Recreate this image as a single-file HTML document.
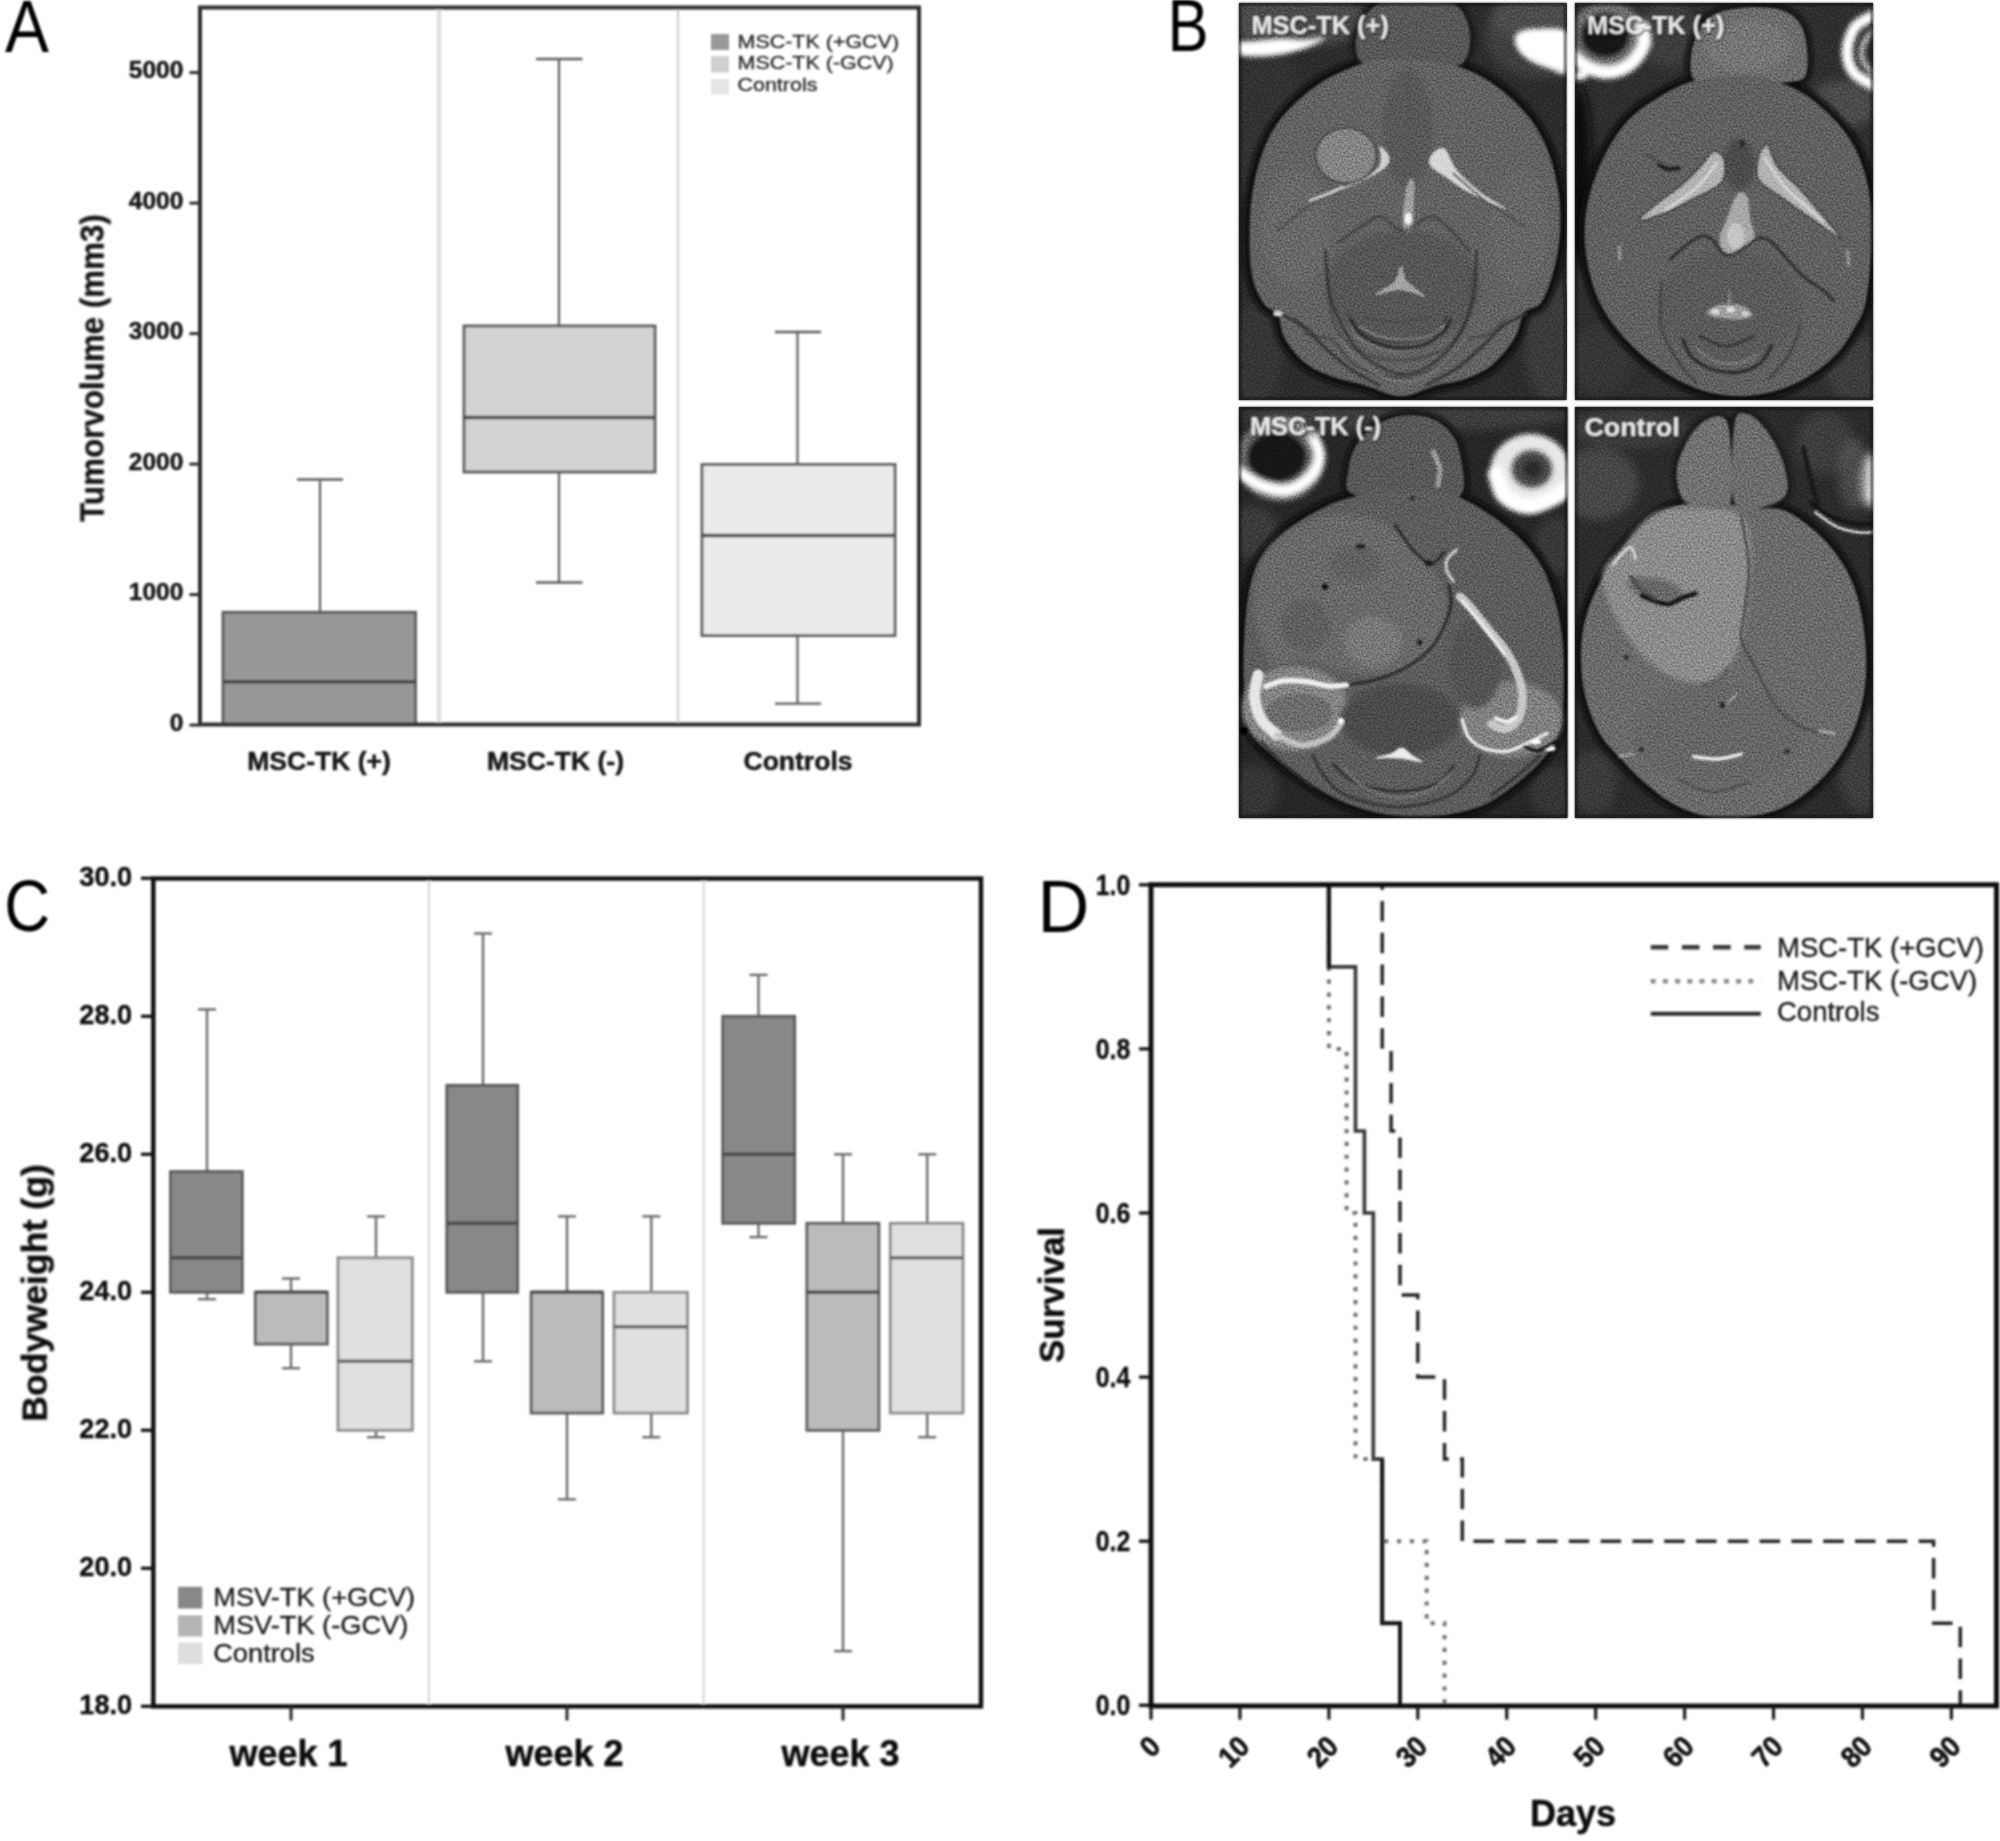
<!DOCTYPE html>
<html lang="en"><head><meta charset="utf-8"><title>Figure</title>
<style>html,body{margin:0;padding:0;background:#fff;}svg{display:block;}text{font-family:'Liberation Sans', Arial, Helvetica, sans-serif;}</style>
</head><body>
<svg width="2000" height="1841" viewBox="0 0 2000 1841">
<defs>
<filter id="soft" x="-2%" y="-2%" width="104%" height="104%"><feGaussianBlur stdDeviation="0.95"/></filter>
<filter id="tsh" x="-10%" y="-30%" width="120%" height="160%"><feMorphology in="SourceAlpha" operator="dilate" radius="0.8" result="d"/><feGaussianBlur in="d" stdDeviation="1.3" result="b"/><feOffset in="b" dx="0.8" dy="0.8" result="o"/><feComponentTransfer in="o" result="s"><feFuncA type="linear" slope="0.6"/></feComponentTransfer><feGaussianBlur in="SourceGraphic" stdDeviation="0.9" result="g"/><feMerge><feMergeNode in="s"/><feMergeNode in="g"/></feMerge></filter>
<filter id="b1" x="-10%" y="-10%" width="120%" height="120%"><feGaussianBlur stdDeviation="1.3"/></filter>
<filter id="b2" x="-20%" y="-20%" width="140%" height="140%"><feGaussianBlur stdDeviation="2.5"/></filter>
<filter id="b4" x="-30%" y="-30%" width="160%" height="160%"><feGaussianBlur stdDeviation="5"/></filter>
<filter id="b8" x="-40%" y="-40%" width="180%" height="180%"><feGaussianBlur stdDeviation="9"/></filter>
<filter id="grain" x="0" y="0" width="100%" height="100%" color-interpolation-filters="sRGB"><feTurbulence type="fractalNoise" baseFrequency="0.5" numOctaves="1" seed="7" result="n"/><feColorMatrix in="n" type="matrix" values="1 0 0 0 0  1 0 0 0 0  1 0 0 0 0  0 0 0 0 1"/></filter>
<clipPath id="cp0"><rect x="1239" y="3" width="327.3" height="397"/></clipPath>
<clipPath id="cp1"><rect x="1575" y="3" width="298" height="397"/></clipPath>
<clipPath id="cp2"><rect x="1239" y="407" width="328.6" height="411"/></clipPath>
<clipPath id="cp3"><rect x="1575" y="407" width="298" height="411"/></clipPath>
</defs>
<rect width="2000" height="1841" fill="#fff"/>
<g id="panelA" filter="url(#soft)">
<line x1="439.00" y1="7.50" x2="439.00" y2="724.50" stroke="#e0e0e0" stroke-width="4.6" />
<line x1="678.00" y1="7.50" x2="678.00" y2="724.50" stroke="#c8c8c8" stroke-width="2" />
<line x1="320.00" y1="479.55" x2="320.00" y2="612.27" stroke="#5c5c5c" stroke-width="2.2" />
<line x1="320.00" y1="724.50" x2="320.00" y2="724.50" stroke="#5c5c5c" stroke-width="2.2" />
<line x1="297.00" y1="479.55" x2="343.00" y2="479.55" stroke="#5c5c5c" stroke-width="2.4" />
<rect x="223.00" y="612.27" width="192.50" height="112.23" fill="#979797" stroke="#585858" stroke-width="2.8" />
<line x1="223.00" y1="681.70" x2="415.50" y2="681.70" stroke="#444" stroke-width="3.5" />
<line x1="559.00" y1="58.95" x2="559.00" y2="325.95" stroke="#5c5c5c" stroke-width="2.2" />
<line x1="559.00" y1="471.98" x2="559.00" y2="582.52" stroke="#5c5c5c" stroke-width="2.2" />
<line x1="536.00" y1="58.95" x2="582.50" y2="58.95" stroke="#5c5c5c" stroke-width="2.4" />
<line x1="536.00" y1="582.52" x2="582.50" y2="582.52" stroke="#5c5c5c" stroke-width="2.4" />
<rect x="464.00" y="325.95" width="191.00" height="146.03" fill="#d3d3d3" stroke="#585858" stroke-width="2.8" />
<line x1="464.00" y1="417.56" x2="655.00" y2="417.56" stroke="#444" stroke-width="3.5" />
<line x1="797.50" y1="331.96" x2="797.50" y2="464.54" stroke="#5c5c5c" stroke-width="2.2" />
<line x1="797.50" y1="635.50" x2="797.50" y2="703.62" stroke="#5c5c5c" stroke-width="2.2" />
<line x1="775.00" y1="331.96" x2="821.00" y2="331.96" stroke="#5c5c5c" stroke-width="2.4" />
<line x1="775.00" y1="703.62" x2="821.00" y2="703.62" stroke="#5c5c5c" stroke-width="2.4" />
<rect x="702.00" y="464.54" width="193.00" height="170.96" fill="#ebebeb" stroke="#585858" stroke-width="2.8" />
<line x1="702.00" y1="535.54" x2="895.00" y2="535.54" stroke="#444" stroke-width="3.5" />
<rect x="200.00" y="7.50" width="719.00" height="717.00" fill="none" stroke="#2e2e2e" stroke-width="4" />
<line x1="189.50" y1="725.10" x2="199.00" y2="725.10" stroke="#2e2e2e" stroke-width="3" />
<text transform="translate(183.30 730.90)" font-size="24.5" font-weight="bold" text-anchor="end" fill="#161616"  stroke="#161616" stroke-width="0.5" stroke-linejoin="round">0</text>
<line x1="189.50" y1="594.60" x2="199.00" y2="594.60" stroke="#2e2e2e" stroke-width="3" />
<text transform="translate(183.30 600.40)" font-size="24.5" font-weight="bold" text-anchor="end" fill="#161616"  stroke="#161616" stroke-width="0.5" stroke-linejoin="round">1000</text>
<line x1="189.50" y1="464.10" x2="199.00" y2="464.10" stroke="#2e2e2e" stroke-width="3" />
<text transform="translate(183.30 469.90)" font-size="24.5" font-weight="bold" text-anchor="end" fill="#161616"  stroke="#161616" stroke-width="0.5" stroke-linejoin="round">2000</text>
<line x1="189.50" y1="333.60" x2="199.00" y2="333.60" stroke="#2e2e2e" stroke-width="3" />
<text transform="translate(183.30 339.40)" font-size="24.5" font-weight="bold" text-anchor="end" fill="#161616"  stroke="#161616" stroke-width="0.5" stroke-linejoin="round">3000</text>
<line x1="189.50" y1="203.10" x2="199.00" y2="203.10" stroke="#2e2e2e" stroke-width="3" />
<text transform="translate(183.30 208.90)" font-size="24.5" font-weight="bold" text-anchor="end" fill="#161616"  stroke="#161616" stroke-width="0.5" stroke-linejoin="round">4000</text>
<line x1="189.50" y1="72.60" x2="199.00" y2="72.60" stroke="#2e2e2e" stroke-width="3" />
<text transform="translate(183.30 78.40)" font-size="24.5" font-weight="bold" text-anchor="end" fill="#161616"  stroke="#161616" stroke-width="0.5" stroke-linejoin="round">5000</text>
<text transform="translate(319.00 770.00) scale(1.0200 1)" font-size="26" font-weight="bold" text-anchor="middle" fill="#161616"  stroke="#161616" stroke-width="0.5" stroke-linejoin="round">MSC-TK (+)</text>
<text transform="translate(555.50 770.00) scale(1.0200 1)" font-size="26" font-weight="bold" text-anchor="middle" fill="#161616"  stroke="#161616" stroke-width="0.5" stroke-linejoin="round">MSC-TK (-)</text>
<text transform="translate(798.00 770.00) scale(1.0200 1)" font-size="26" font-weight="bold" text-anchor="middle" fill="#161616"  stroke="#161616" stroke-width="0.5" stroke-linejoin="round">Controls</text>
<rect x="711.00" y="34.00" width="18.00" height="16.00" fill="#999" stroke="none" stroke-width="0" />
<rect x="711.00" y="56.00" width="18.00" height="16.50" fill="#cfcfcf" stroke="none" stroke-width="0" />
<rect x="711.00" y="79.00" width="18.00" height="15.50" fill="#e6e6e6" stroke="none" stroke-width="0" />
<text transform="translate(737.50 47.50) scale(1.1300 1)" font-size="19" font-weight="normal" text-anchor="start" fill="#2a2a2a"  stroke="#2a2a2a" stroke-width="0.35" stroke-linejoin="round">MSC-TK (+GCV)</text>
<text transform="translate(737.50 69.00) scale(1.1300 1)" font-size="19" font-weight="normal" text-anchor="start" fill="#2a2a2a"  stroke="#2a2a2a" stroke-width="0.35" stroke-linejoin="round">MSC-TK (-GCV)</text>
<text transform="translate(737.50 91.00) scale(1.1300 1)" font-size="19" font-weight="normal" text-anchor="start" fill="#2a2a2a"  stroke="#2a2a2a" stroke-width="0.35" stroke-linejoin="round">Controls</text>
<text transform="translate(103.50 368.00) rotate(-90) scale(0.9500 1)" font-size="33" font-weight="bold" text-anchor="middle" fill="#161616"  stroke="#161616" stroke-width="0.4" stroke-linejoin="round">Tumorvolume (mm3)</text>
</g>
<g id="panelB">
<g clip-path="url(#cp0)">
<rect x="1239.00" y="3.00" width="327.30" height="397.00" fill="#2c2c2c" stroke="none" stroke-width="0" />
<g filter="url(#b4)">
<ellipse cx="1296.0" cy="20.5" rx="75.3" ry="25.1" fill="#505050" />
<ellipse cx="1537.8" cy="18.2" rx="45.6" ry="25.1" fill="#484848" />
<ellipse cx="1268.6" cy="136.9" rx="36.5" ry="95.8" fill="#333" />
<ellipse cx="1551.5" cy="342.2" rx="27.4" ry="59.3" fill="#3a3a3a" />
<ellipse cx="1257.2" cy="355.8" rx="25.1" ry="52.5" fill="#363636" />
</g>
<g filter="url(#b2)">
<path d="M1407.8 59.8 C1420.7 60.8 1441.6 62.2 1455.7 66.1 C1469.7 70.1 1480.4 75.3 1492.2 83.3 C1503.9 91.2 1517.2 103.2 1526.4 114.1 C1535.5 124.9 1541.5 135.0 1546.9 148.3 C1552.3 161.6 1556.7 178.7 1558.8 193.9 C1560.9 209.1 1560.7 225.4 1559.4 239.5 C1558.2 253.6 1554.6 267.6 1551.5 278.3 C1548.3 288.9 1545.1 297.6 1540.5 303.4 C1535.9 309.2 1528.3 307.3 1524.1 313.0 C1519.8 318.7 1520.3 328.9 1515.0 337.6 C1509.6 346.3 1500.5 358.0 1492.2 365.0 C1483.8 371.9 1474.3 375.6 1464.8 379.1 C1455.3 382.6 1445.8 383.1 1435.1 385.9 C1424.5 388.8 1412.3 396.4 1400.9 396.4 C1389.5 396.4 1378.1 389.2 1366.7 385.9 C1355.3 382.7 1342.7 380.6 1332.5 376.8 C1322.2 373.0 1313.1 369.6 1305.1 363.1 C1297.1 356.7 1289.1 346.1 1284.6 338.0 C1280.0 330.0 1281.2 320.6 1277.7 314.8 C1274.2 309.0 1267.8 309.5 1263.6 303.4 C1259.4 297.3 1255.0 288.9 1252.6 278.3 C1250.3 267.6 1249.5 253.6 1249.5 239.5 C1249.4 225.4 1249.8 209.1 1252.2 193.9 C1254.6 178.7 1258.7 161.6 1264.1 148.3 C1269.4 135.0 1275.5 124.8 1284.6 114.1 C1293.7 103.3 1307.0 91.9 1318.8 83.9 C1330.6 76.0 1345.4 70.1 1355.3 66.1 C1365.2 62.2 1369.4 61.3 1378.1 60.2 C1386.8 59.2 1394.8 58.8 1407.8 59.8Z" fill="#0c0c0c" stroke="#0c0c0c" stroke-width="13"/>
<path d="M1356.4 52.5 C1354.7 46.0 1356.1 34.8 1358.7 27.4 C1361.4 20.0 1366.9 12.5 1372.4 8.0 C1377.9 3.4 1380.2 1.3 1391.8 0.0 C1403.4 -1.3 1430.6 -1.5 1442.0 0.0 C1453.4 1.5 1455.7 4.2 1460.2 9.1 C1464.8 14.1 1468.0 22.4 1469.3 29.7 C1470.7 36.9 1470.5 46.4 1468.2 52.5 C1465.9 58.5 1465.7 63.5 1455.7 66.1 C1445.6 68.8 1422.2 68.4 1407.8 68.4 C1393.3 68.4 1377.5 68.8 1369.0 66.1 C1360.4 63.5 1358.1 58.9 1356.4 52.5Z" fill="#141414" stroke="#141414" stroke-width="9"/>
</g>
<g filter="url(#b1)">
<path d="M1356.4 52.5 C1354.7 46.0 1356.1 34.8 1358.7 27.4 C1361.4 20.0 1366.9 12.5 1372.4 8.0 C1377.9 3.4 1380.2 1.3 1391.8 0.0 C1403.4 -1.3 1430.6 -1.5 1442.0 0.0 C1453.4 1.5 1455.7 4.2 1460.2 9.1 C1464.8 14.1 1468.0 22.4 1469.3 29.7 C1470.7 36.9 1470.5 46.4 1468.2 52.5 C1465.9 58.5 1465.7 63.5 1455.7 66.1 C1445.6 68.8 1422.2 68.4 1407.8 68.4 C1393.3 68.4 1377.5 68.8 1369.0 66.1 C1360.4 63.5 1358.1 58.9 1356.4 52.5Z" fill="#595959" />
<path d="M1407.8 59.8 C1420.7 60.8 1441.6 62.2 1455.7 66.1 C1469.7 70.1 1480.4 75.3 1492.2 83.3 C1503.9 91.2 1517.2 103.2 1526.4 114.1 C1535.5 124.9 1541.5 135.0 1546.9 148.3 C1552.3 161.6 1556.7 178.7 1558.8 193.9 C1560.9 209.1 1560.7 225.4 1559.4 239.5 C1558.2 253.6 1554.6 267.6 1551.5 278.3 C1548.3 288.9 1545.1 297.6 1540.5 303.4 C1535.9 309.2 1528.3 307.3 1524.1 313.0 C1519.8 318.7 1520.3 328.9 1515.0 337.6 C1509.6 346.3 1500.5 358.0 1492.2 365.0 C1483.8 371.9 1474.3 375.6 1464.8 379.1 C1455.3 382.6 1445.8 383.1 1435.1 385.9 C1424.5 388.8 1412.3 396.4 1400.9 396.4 C1389.5 396.4 1378.1 389.2 1366.7 385.9 C1355.3 382.7 1342.7 380.6 1332.5 376.8 C1322.2 373.0 1313.1 369.6 1305.1 363.1 C1297.1 356.7 1289.1 346.1 1284.6 338.0 C1280.0 330.0 1281.2 320.6 1277.7 314.8 C1274.2 309.0 1267.8 309.5 1263.6 303.4 C1259.4 297.3 1255.0 288.9 1252.6 278.3 C1250.3 267.6 1249.5 253.6 1249.5 239.5 C1249.4 225.4 1249.8 209.1 1252.2 193.9 C1254.6 178.7 1258.7 161.6 1264.1 148.3 C1269.4 135.0 1275.5 124.8 1284.6 114.1 C1293.7 103.3 1307.0 91.9 1318.8 83.9 C1330.6 76.0 1345.4 70.1 1355.3 66.1 C1365.2 62.2 1369.4 61.3 1378.1 60.2 C1386.8 59.2 1394.8 58.8 1407.8 59.8Z" fill="#626262" />
</g>
<g filter="url(#b2)">
<path d="M1524.1 34.2 C1527.7 31.4 1535.1 31.6 1542.3 31.9 C1549.6 32.3 1563.2 29.8 1567.4 36.5 C1571.6 43.1 1570.1 66.3 1567.4 71.9 C1564.8 77.4 1557.2 71.3 1551.5 69.6 C1545.8 67.9 1538.3 65.0 1533.2 61.6 C1528.1 58.2 1522.2 53.6 1520.7 49.0 C1519.1 44.5 1520.5 37.1 1524.1 34.2Z" fill="#ffffff" />
</g>
<g filter="url(#b2)">
<ellipse cx="1403.2" cy="287.4" rx="77.6" ry="57.0" fill="#575757" />
<ellipse cx="1407.8" cy="127.7" rx="25.1" ry="59.3" fill="#585858" />
<ellipse cx="1296.0" cy="228.1" rx="34.2" ry="59.3" fill="#676767" />
<ellipse cx="1519.5" cy="228.1" rx="29.7" ry="59.3" fill="#666666" />
</g>
<g filter="url(#b1)">
<ellipse cx="1346.2" cy="155.6" rx="31.9" ry="29.2" fill="#4e4e4e" />
<ellipse cx="1346.2" cy="155.6" rx="29.2" ry="26.5" fill="#848484" />
<path d="M1379.9 146.0 C1381.4 146.0 1389.0 153.5 1389.5 157.4 C1390.0 161.3 1388.8 164.8 1383.1 169.3 C1377.4 173.7 1365.3 179.9 1355.3 184.3 C1345.3 188.7 1331.3 192.5 1323.4 195.7 C1315.4 198.9 1305.9 204.2 1307.4 203.5 C1308.9 202.7 1323.4 195.0 1332.5 191.1 C1341.6 187.3 1354.5 184.1 1362.1 180.2 C1369.7 176.3 1375.0 171.5 1378.1 167.7 C1381.2 163.9 1380.5 161.0 1380.8 157.4 C1381.1 153.8 1378.5 146.0 1379.9 146.0Z" fill="#d0d0d0" />
<path d="M1432.8 153.3 C1435.4 150.6 1440.7 145.9 1444.7 148.7 C1448.7 151.5 1450.7 162.6 1456.8 169.9 C1462.9 177.3 1473.0 186.2 1481.2 192.7 C1489.5 199.2 1508.3 208.9 1506.3 208.9 C1504.3 208.9 1479.7 198.2 1469.3 192.7 C1459.0 187.3 1450.9 180.8 1444.3 176.1 C1437.6 171.4 1431.6 168.5 1429.7 164.7 C1427.8 160.9 1430.3 155.9 1432.8 153.3Z" fill="#d6d6d6" />
<path d="M1408.9 180.2 C1410.4 177.9 1413.3 178.3 1414.1 182.5 C1414.9 186.7 1414.0 197.7 1413.7 205.3 C1413.4 212.9 1413.8 223.8 1412.3 228.1 C1410.9 232.4 1406.6 232.7 1405.0 230.8 C1403.4 228.9 1402.7 222.5 1402.7 216.7 C1402.7 210.9 1404.0 202.3 1405.0 196.2 C1406.0 190.1 1407.4 182.5 1408.9 180.2Z" fill="#a0a0a0" />
<ellipse cx="1408.2" cy="218.5" rx="3.6" ry="5.9" fill="#f4f4f4" />
<path d="M1339.3 241.8 C1343.1 239.1 1355.3 230.0 1362.1 225.8 C1369.0 221.6 1373.5 215.9 1380.4 216.7 C1387.2 217.5 1394.8 230.8 1403.2 230.8 C1411.6 230.8 1423.0 217.2 1430.6 216.7 C1438.2 216.2 1442.4 222.4 1448.8 228.1 C1455.3 233.8 1465.9 247.1 1469.3 250.9" fill="none" stroke="#3c3c3c" stroke-width="2.2" stroke-linecap="round" stroke-linejoin="round" />
<path d="M1277.7 230.4 C1283.1 226.2 1299.0 212.1 1309.7 205.3 C1320.3 198.4 1336.3 192.0 1341.6 189.3" fill="none" stroke="#4a4a4a" stroke-width="2" stroke-linecap="round" stroke-linejoin="round" />
<path d="M1453.4 173.4 C1458.7 177.9 1473.5 192.0 1485.3 200.7 C1497.1 209.5 1517.6 221.6 1524.1 225.8" fill="none" stroke="#4a4a4a" stroke-width="2" stroke-linecap="round" stroke-linejoin="round" />
<path d="M1407.8 68.4 C1407.9 76.0 1408.5 96.6 1408.9 114.1 C1409.3 131.5 1409.8 163.5 1410.0 173.4" fill="none" stroke="#555" stroke-width="3" stroke-linecap="round" stroke-linejoin="round" />
<path d="M1401.4 265.7 C1403.5 265.5 1402.7 275.4 1406.6 280.6 C1410.5 285.7 1425.8 294.9 1424.9 296.5 C1423.9 298.1 1409.2 290.5 1400.9 290.1 C1392.7 289.8 1376.5 296.1 1375.4 294.7 C1374.2 293.3 1389.7 286.5 1394.1 281.7 C1398.4 276.9 1399.3 265.9 1401.4 265.7Z" fill="#a4a4a4" />
<path d="M1348.4 314.8 C1350.3 317.4 1351.5 326.2 1359.9 330.7 C1368.2 335.3 1385.7 342.2 1398.6 342.2 C1411.6 342.2 1429.4 335.1 1437.4 330.7 C1445.4 326.4 1445.0 318.4 1446.5 315.9" fill="none" stroke="#3e3e3e" stroke-width="2.6" stroke-linecap="round" stroke-linejoin="round" />
<path d="M1364.4 318.2 C1370.1 318.8 1387.2 321.7 1398.6 321.6 C1410.0 321.5 1427.1 318.2 1432.8 317.5" fill="none" stroke="#4a4a4a" stroke-width="2" stroke-linecap="round" stroke-linejoin="round" />
<path d="M1327.9 269.2 C1328.7 277.5 1327.9 306.0 1332.5 319.3 C1337.0 332.6 1344.3 342.2 1355.3 349.0 C1366.3 355.8 1383.8 360.4 1398.6 360.4 C1413.5 360.4 1432.8 355.8 1444.3 349.0 C1455.7 342.2 1462.1 332.6 1467.1 319.3 C1472.0 306.0 1472.8 277.5 1473.9 269.2" fill="none" stroke="#4a4a4a" stroke-width="2.4" stroke-linecap="round" stroke-linejoin="round" />
<path d="M1296.0 319.3 C1298.3 322.0 1303.6 331.9 1309.7 335.3 C1315.8 338.7 1324.9 334.9 1332.5 339.9 C1340.1 344.8 1344.3 358.7 1355.3 365.0 C1366.3 371.2 1384.2 377.5 1398.6 377.5 C1413.1 377.5 1430.6 371.2 1442.0 365.0 C1453.4 358.7 1459.5 344.8 1467.1 339.9 C1474.7 334.9 1481.1 338.7 1487.6 335.3 C1494.1 331.9 1502.8 322.0 1505.8 319.3" fill="none" stroke="#484848" stroke-width="2.4" stroke-linecap="round" stroke-linejoin="round" />
<path d="M1350.7 323.9 C1352.6 326.6 1354.2 335.3 1362.1 339.9 C1370.1 344.4 1386.5 351.3 1398.6 351.3 C1410.8 351.3 1427.5 344.4 1435.1 339.9 C1442.7 335.3 1442.7 326.6 1444.3 323.9" fill="none" stroke="#7c7c7c" stroke-width="2.2" stroke-linecap="round" stroke-linejoin="round" />
</g>
<g filter="url(#b1)">
<path d="M1351.2 320.1 C1352.6 322.2 1355.1 329.1 1359.8 333.0 C1364.5 337.0 1372.0 341.3 1379.2 343.8 C1386.4 346.3 1395.0 348.1 1402.9 348.1 C1410.8 348.1 1419.8 346.7 1426.7 343.8 C1433.5 340.9 1440.0 334.8 1443.9 330.9 C1447.9 326.9 1449.3 321.9 1450.4 320.1" fill="none" stroke="#2a2a2a" stroke-width="3.4" stroke-linecap="round" stroke-linejoin="round" />
<path d="M1359.8 326.6 C1363.0 328.2 1372.0 334.1 1379.2 336.3 C1386.4 338.4 1395.0 339.5 1402.9 339.5 C1410.8 339.5 1420.0 338.4 1426.7 336.3 C1433.3 334.1 1440.1 328.2 1442.8 326.6" fill="none" stroke="#7a7a7a" stroke-width="2.6" stroke-linecap="round" stroke-linejoin="round" />
<path d="M1325.3 251.1 C1326.0 258.2 1326.7 281.6 1329.6 294.2 C1332.5 306.8 1337.5 316.8 1342.5 326.6 C1347.6 336.3 1352.6 345.2 1359.8 352.4 C1367.0 359.6 1378.5 366.0 1385.7 369.7 C1392.9 373.4 1396.8 374.4 1402.9 374.4 C1409.0 374.4 1415.2 373.4 1422.3 369.7 C1429.5 366.0 1439.2 359.6 1446.1 352.4 C1452.9 345.2 1458.7 336.3 1463.3 326.6 C1468.0 316.8 1472.0 306.8 1474.1 294.2 C1476.3 281.6 1475.9 258.2 1476.3 251.1" fill="none" stroke="#353535" stroke-width="2.6" stroke-linecap="round" stroke-linejoin="round" />
<path d="M1280.0 313.6 C1283.9 315.8 1296.2 320.8 1303.7 326.6 C1311.3 332.3 1317.4 340.9 1325.3 348.1 C1333.2 355.3 1342.2 363.5 1351.2 369.7 C1360.2 375.9 1374.5 382.6 1379.2 385.2" fill="none" stroke="#343434" stroke-width="2.8" stroke-linecap="round" stroke-linejoin="round" />
<path d="M1525.9 313.6 C1521.9 315.8 1509.7 320.8 1502.2 326.6 C1494.6 332.3 1488.5 340.9 1480.6 348.1 C1472.7 355.3 1463.7 363.5 1454.7 369.7 C1445.7 375.9 1431.3 382.6 1426.7 385.2" fill="none" stroke="#343434" stroke-width="2.8" stroke-linecap="round" stroke-linejoin="round" />
<path d="M1340.4 339.5 C1343.6 343.1 1352.2 354.6 1359.8 361.1 C1367.3 367.5 1378.5 374.9 1385.7 378.3 C1392.9 381.8 1396.8 381.8 1402.9 381.8 C1409.0 381.8 1415.2 381.8 1422.3 378.3 C1429.5 374.9 1438.9 367.5 1446.1 361.1 C1453.3 354.6 1462.3 343.1 1465.5 339.5" fill="none" stroke="#757575" stroke-width="2.4" stroke-linecap="round" stroke-linejoin="round" />
<path d="M1310.2 200.4 C1312.7 199.5 1319.9 197.1 1325.3 195.0 C1330.7 192.8 1339.7 188.7 1342.5 187.4" fill="none" stroke="#c4c4c4" stroke-width="3" stroke-linecap="round" stroke-linejoin="round" />
<ellipse cx="1277.8" cy="313.6" rx="4.7" ry="3.0" fill="#d0d0d0" />
</g>
<g filter="url(#b4)">
<ellipse cx="1541.0" cy="35.4" rx="56.1" ry="43.1" fill="#4e4e4e" opacity="0.55"/>
<ellipse cx="1292.9" cy="15.9" rx="64.7" ry="19.4" fill="#4a4a4a" opacity="0.6"/>
</g>
<g filter="url(#b2)">
<path d="M1234.7 42.9 C1238.3 40.7 1248.3 41.5 1256.3 40.7 C1264.2 40.0 1274.2 38.8 1282.1 38.6 C1290.0 38.4 1296.5 39.8 1303.7 39.7 C1310.9 39.5 1324.6 36.3 1325.3 37.5 C1326.0 38.8 1315.2 44.4 1308.0 47.2 C1300.8 50.0 1290.8 52.8 1282.1 54.3 C1273.5 55.9 1264.2 56.6 1256.3 56.5 C1248.3 56.4 1238.3 56.0 1234.7 53.7 C1231.1 51.4 1231.1 45.1 1234.7 42.9Z" fill="#ffffff" />
<path d="M1517.3 33.2 C1520.7 30.3 1528.0 28.9 1536.7 28.9 C1545.3 28.9 1563.6 26.4 1569.0 33.2 C1574.4 40.0 1572.3 64.1 1569.0 69.9 C1565.8 75.6 1556.4 69.5 1549.6 67.7 C1542.8 65.9 1533.6 62.7 1528.0 59.1 C1522.5 55.5 1518.0 50.5 1516.2 46.1 C1514.4 41.8 1513.8 36.1 1517.3 33.2Z" fill="#ffffff" />
</g>
<rect x="1239" y="3" width="327.3" height="397" filter="url(#grain)" style="mix-blend-mode:overlay" opacity="0.45"/>
</g>
<text transform="translate(1251.50 34.40) scale(0.9750 1)" font-size="26" font-weight="bold" text-anchor="start" fill="#f4f4f4" filter="url(#tsh)" opacity="0.95">MSC-TK (+)</text>
<g clip-path="url(#cp1)">
<rect x="1575.00" y="3.00" width="298.00" height="397.00" fill="#2e2e2e" stroke="none" stroke-width="0" />
<g filter="url(#b4)">
<ellipse cx="1842.4" cy="104.4" rx="34.5" ry="23.7" fill="#4c4c4c" />
<ellipse cx="1667.7" cy="33.2" rx="28.0" ry="34.5" fill="#3c3c3c" />
<ellipse cx="1855.4" cy="369.6" rx="30.2" ry="32.3" fill="#3c3c3c" />
<ellipse cx="1600.9" cy="358.8" rx="32.3" ry="34.5" fill="#363636" />
<ellipse cx="1579.3" cy="175.5" rx="12.9" ry="90.6" fill="#0c0c0c" />
</g>
<g filter="url(#b2)">
<path d="M1695.8 80.6 C1682.1 83.9 1672.4 89.3 1661.3 95.7 C1650.1 102.2 1638.3 109.8 1628.9 119.5 C1619.6 129.2 1611.7 141.7 1605.2 154.0 C1598.7 166.2 1593.5 180.2 1590.1 192.8 C1586.7 205.4 1585.1 217.2 1584.7 229.4 C1584.3 241.7 1585.6 254.2 1587.9 266.1 C1590.3 278.0 1593.7 289.8 1598.7 300.6 C1603.8 311.4 1610.2 321.1 1618.1 330.8 C1626.0 340.5 1636.1 350.6 1646.2 358.8 C1656.2 367.1 1667.4 374.6 1678.5 380.4 C1689.7 386.2 1701.5 390.8 1713.0 393.3 C1724.5 395.9 1736.0 396.6 1747.5 395.9 C1759.0 395.2 1771.2 392.7 1782.0 389.0 C1792.8 385.4 1802.9 380.0 1812.2 373.9 C1821.6 367.8 1830.9 360.3 1838.1 352.4 C1845.3 344.5 1850.9 334.4 1855.4 326.5 C1859.8 318.6 1862.5 315.7 1865.1 304.9 C1867.6 294.1 1869.7 276.2 1870.9 261.8 C1872.1 247.4 1872.9 232.3 1872.2 218.7 C1871.5 205.0 1869.7 192.1 1866.6 179.8 C1863.5 167.6 1859.4 155.8 1853.6 145.3 C1847.9 134.9 1840.4 125.9 1832.1 117.3 C1823.7 108.7 1813.4 99.7 1803.6 93.6 C1793.8 87.5 1783.5 83.5 1773.4 80.6 C1763.3 77.8 1756.2 76.3 1743.2 76.3 C1730.3 76.3 1709.4 77.4 1695.8 80.6Z" fill="#080808" stroke="#080808" stroke-width="13"/>
<path d="M1692.5 77.4 C1689.7 72.4 1690.2 60.7 1691.5 52.6 C1692.7 44.5 1696.1 35.3 1700.1 28.9 C1704.0 22.4 1707.3 17.4 1715.2 13.8 C1723.1 10.2 1736.7 8.0 1747.5 7.3 C1758.3 6.6 1771.2 7.0 1779.9 9.5 C1788.5 12.0 1794.8 16.3 1799.3 22.4 C1803.8 28.5 1805.8 37.3 1806.8 46.1 C1807.9 54.9 1808.4 69.3 1805.8 75.2 C1803.1 81.2 1800.4 80.3 1790.7 81.7 C1781.0 83.2 1761.2 83.8 1747.5 83.9 C1733.9 84.0 1717.9 83.4 1708.7 82.4 C1699.5 81.3 1695.4 82.4 1692.5 77.4Z" fill="#101010" stroke="#101010" stroke-width="9"/>
</g>
<g filter="url(#b1)">
<path d="M1692.5 77.4 C1689.7 72.4 1690.2 60.7 1691.5 52.6 C1692.7 44.5 1696.1 35.3 1700.1 28.9 C1704.0 22.4 1707.3 17.4 1715.2 13.8 C1723.1 10.2 1736.7 8.0 1747.5 7.3 C1758.3 6.6 1771.2 7.0 1779.9 9.5 C1788.5 12.0 1794.8 16.3 1799.3 22.4 C1803.8 28.5 1805.8 37.3 1806.8 46.1 C1807.9 54.9 1808.4 69.3 1805.8 75.2 C1803.1 81.2 1800.4 80.3 1790.7 81.7 C1781.0 83.2 1761.2 83.8 1747.5 83.9 C1733.9 84.0 1717.9 83.4 1708.7 82.4 C1699.5 81.3 1695.4 82.4 1692.5 77.4Z" fill="#6c6c6c" />
<path d="M1695.8 80.6 C1682.1 83.9 1672.4 89.3 1661.3 95.7 C1650.1 102.2 1638.3 109.8 1628.9 119.5 C1619.6 129.2 1611.7 141.7 1605.2 154.0 C1598.7 166.2 1593.5 180.2 1590.1 192.8 C1586.7 205.4 1585.1 217.2 1584.7 229.4 C1584.3 241.7 1585.6 254.2 1587.9 266.1 C1590.3 278.0 1593.7 289.8 1598.7 300.6 C1603.8 311.4 1610.2 321.1 1618.1 330.8 C1626.0 340.5 1636.1 350.6 1646.2 358.8 C1656.2 367.1 1667.4 374.6 1678.5 380.4 C1689.7 386.2 1701.5 390.8 1713.0 393.3 C1724.5 395.9 1736.0 396.6 1747.5 395.9 C1759.0 395.2 1771.2 392.7 1782.0 389.0 C1792.8 385.4 1802.9 380.0 1812.2 373.9 C1821.6 367.8 1830.9 360.3 1838.1 352.4 C1845.3 344.5 1850.9 334.4 1855.4 326.5 C1859.8 318.6 1862.5 315.7 1865.1 304.9 C1867.6 294.1 1869.7 276.2 1870.9 261.8 C1872.1 247.4 1872.9 232.3 1872.2 218.7 C1871.5 205.0 1869.7 192.1 1866.6 179.8 C1863.5 167.6 1859.4 155.8 1853.6 145.3 C1847.9 134.9 1840.4 125.9 1832.1 117.3 C1823.7 108.7 1813.4 99.7 1803.6 93.6 C1793.8 87.5 1783.5 83.5 1773.4 80.6 C1763.3 77.8 1756.2 76.3 1743.2 76.3 C1730.3 76.3 1709.4 77.4 1695.8 80.6Z" fill="#616161" />
</g>
<g filter="url(#b2)">
<ellipse cx="1607.3" cy="39.7" rx="39.9" ry="37.7" fill="#6e6e6e" />
<ellipse cx="1605.2" cy="35.3" rx="24.8" ry="22.6" fill="#181818" />
<path d="M1572.8 56.9 C1575.4 58.7 1581.8 65.1 1587.9 67.7 C1594.0 70.3 1602.3 73.1 1609.5 72.4 C1616.7 71.8 1625.2 68.6 1631.1 63.8 C1636.9 59.1 1642.6 50.2 1644.4 44.0 C1646.3 37.8 1642.6 29.6 1642.3 26.7" fill="none" stroke="#ffffff" stroke-width="13" stroke-linecap="round" stroke-linejoin="round" />
<path d="M1572.8 76.3 C1574.6 76.1 1581.8 75.4 1583.6 75.2" fill="none" stroke="#ffffff" stroke-width="8" stroke-linecap="round" stroke-linejoin="round" />
<path d="M1874.8 14.9 C1871.5 16.8 1860.0 20.8 1855.4 26.7 C1850.8 32.7 1847.4 42.8 1847.2 50.4 C1846.9 58.1 1849.0 66.5 1853.6 72.4 C1858.2 78.4 1871.2 83.8 1874.8 86.0" fill="none" stroke="#ffffff" stroke-width="11" stroke-linecap="round" stroke-linejoin="round" />
<path d="M1874.8 30.0 C1873.0 31.9 1866.5 37.0 1864.4 41.8 C1862.3 46.7 1860.5 53.5 1862.3 59.1 C1864.0 64.6 1872.7 72.5 1874.8 75.2" fill="none" stroke="#c8c8c8" stroke-width="5" stroke-linecap="round" stroke-linejoin="round" />
</g>
<g filter="url(#b2)">
<ellipse cx="1730.3" cy="304.9" rx="71.2" ry="56.1" fill="#5a5a5a" />
<ellipse cx="1738.9" cy="164.7" rx="16.2" ry="25.9" fill="#4c4c4c" />
<ellipse cx="1747.5" cy="46.1" rx="43.1" ry="25.9" fill="#757575" />
</g>
<g filter="url(#b1)">
<path d="M1713.0 151.8 C1716.6 150.8 1722.4 153.7 1723.8 158.7 C1725.2 163.7 1726.3 175.5 1721.6 182.0 C1717.0 188.5 1705.1 192.4 1695.8 197.5 C1686.4 202.6 1674.9 208.9 1665.6 212.6 C1656.2 216.4 1641.1 221.5 1639.7 220.0 C1638.3 218.4 1649.8 209.5 1656.9 203.6 C1664.1 197.6 1675.3 190.6 1682.8 184.2 C1690.4 177.7 1697.2 170.1 1702.2 164.7 C1707.3 159.4 1709.4 152.8 1713.0 151.8Z" fill="#b2b2b2" stroke="#3c3c3c" stroke-width="1.8"/>
<path d="M1764.8 145.3 C1763.0 147.1 1759.3 152.5 1758.3 158.3 C1757.3 164.0 1754.8 173.3 1758.7 179.8 C1762.7 186.4 1773.1 191.0 1782.0 197.5 C1790.9 204.1 1802.4 212.3 1812.2 219.1 C1822.0 225.9 1838.9 238.9 1840.7 238.5 C1842.5 238.1 1829.9 224.8 1823.0 216.5 C1816.1 208.2 1806.8 196.7 1799.3 188.5 C1791.7 180.2 1782.7 173.7 1777.7 166.9 C1772.7 160.1 1771.2 151.1 1769.1 147.5 C1766.9 143.9 1766.6 143.5 1764.8 145.3Z" fill="#b2b2b2" stroke="#3c3c3c" stroke-width="1.8"/>
<path d="M1717.3 162.6 C1713.7 166.9 1704.4 180.6 1695.8 188.5 C1687.1 196.4 1670.6 206.4 1665.6 210.0" fill="none" stroke="#dedede" stroke-width="2.2" stroke-linecap="round" stroke-linejoin="round" />
<path d="M1764.8 158.3 C1768.4 163.3 1776.6 178.0 1786.3 188.5 C1796.0 198.9 1816.9 215.4 1823.0 220.8" fill="none" stroke="#dedede" stroke-width="2.2" stroke-linecap="round" stroke-linejoin="round" />
<path d="M1738.9 192.8 C1741.4 191.7 1745.7 192.8 1747.5 197.1 C1749.4 201.4 1749.0 212.2 1750.1 218.7 C1751.3 225.1 1754.9 231.5 1754.4 235.9 C1754.0 240.3 1750.8 242.0 1747.5 245.0 C1744.2 247.9 1738.5 252.6 1734.6 253.6 C1730.6 254.6 1726.3 253.6 1723.8 251.0 C1721.3 248.4 1719.1 243.1 1719.5 238.1 C1719.8 233.0 1723.8 226.6 1726.0 220.8 C1728.1 215.1 1730.3 208.2 1732.4 203.6 C1734.6 198.9 1736.4 193.9 1738.9 192.8Z" fill="#a8a8a8" />
<ellipse cx="1735.7" cy="235.9" rx="8.6" ry="12.9" fill="#c6c6c6" />
<path d="M1669.9 259.6 C1672.8 257.1 1681.8 248.5 1687.1 244.5 C1692.5 240.6 1697.9 236.6 1702.2 235.9 C1706.6 235.2 1710.1 238.0 1713.0 240.2 C1715.9 242.5 1717.3 246.9 1719.5 249.3 C1721.6 251.7 1723.4 253.7 1726.0 254.5 C1728.5 255.2 1731.0 255.2 1734.6 253.6 C1738.2 252.0 1743.6 247.6 1747.5 245.0 C1751.5 242.4 1754.7 238.9 1758.3 238.1 C1761.9 237.3 1765.1 237.7 1769.1 240.2 C1773.0 242.7 1776.6 247.4 1782.0 253.2 C1787.4 258.9 1794.6 268.5 1801.4 274.7 C1808.3 280.9 1817.6 285.9 1823.0 290.3 C1828.4 294.6 1832.0 298.9 1833.8 300.6" fill="none" stroke="#2c2c2c" stroke-width="2.6" stroke-linecap="round" stroke-linejoin="round" />
<path d="M1659.1 164.7 C1660.5 165.5 1664.4 168.5 1667.7 169.1 C1671.0 169.6 1677.1 168.2 1678.9 168.0" fill="none" stroke="#1c1c1c" stroke-width="4" stroke-linecap="round" stroke-linejoin="round" />
<path d="M1646.2 154.0 C1648.7 155.6 1658.7 162.0 1661.3 163.7" fill="none" stroke="#4a4a4a" stroke-width="3" stroke-linecap="round" stroke-linejoin="round" />
<ellipse cx="1742.1" cy="143.6" rx="2.6" ry="3.5" fill="#262626" />
<path d="M1706.6 313.5 C1705.5 311.5 1711.2 307.6 1715.2 306.0 C1719.1 304.4 1725.2 303.7 1730.3 303.8 C1735.3 304.0 1741.7 305.1 1745.4 307.1 C1749.0 309.1 1753.3 313.6 1752.3 315.7 C1751.2 317.8 1744.0 319.2 1738.9 319.6 C1733.8 320.0 1727.0 319.3 1721.6 318.3 C1716.3 317.3 1707.6 315.6 1706.6 313.5Z" fill="#9c9c9c" />
<ellipse cx="1715.6" cy="311.8" rx="3.9" ry="2.8" fill="#dcdcdc" />
<ellipse cx="1730.7" cy="309.7" rx="4.3" ry="2.8" fill="#e0e0e0" />
<ellipse cx="1745.4" cy="313.5" rx="3.5" ry="2.6" fill="#d0d0d0" />
<path d="M1729.2 292.0 C1729.2 293.8 1729.4 301.0 1729.4 302.8" fill="none" stroke="#8a8a8a" stroke-width="2.2" stroke-linecap="round" stroke-linejoin="round" />
<path d="M1682.8 339.4 C1684.3 342.3 1686.4 351.6 1691.5 356.7 C1696.5 361.7 1705.1 367.0 1713.0 369.6 C1720.9 372.2 1731.0 373.3 1738.9 372.2 C1746.8 371.1 1755.0 367.5 1760.5 363.1 C1765.9 358.8 1769.8 348.8 1771.7 345.9" fill="none" stroke="#2c2c2c" stroke-width="3.2" stroke-linecap="round" stroke-linejoin="round" />
<path d="M1700.1 336.2 C1704.4 337.9 1717.0 346.3 1726.0 346.3 C1734.9 346.3 1749.3 337.9 1754.0 336.2" fill="none" stroke="#343434" stroke-width="2.8" stroke-linecap="round" stroke-linejoin="round" />
<path d="M1695.8 348.1 C1699.0 350.2 1708.0 358.5 1715.2 361.0 C1722.4 363.5 1731.7 364.2 1738.9 363.1 C1746.1 362.1 1755.1 356.0 1758.3 354.5" fill="none" stroke="#7a7a7a" stroke-width="2.2" stroke-linecap="round" stroke-linejoin="round" />
<path d="M1661.3 283.4 C1661.3 290.5 1658.7 313.9 1661.3 326.5 C1663.8 339.1 1670.5 349.4 1676.4 358.8 C1682.2 368.3 1692.9 379.0 1696.2 383.0" fill="none" stroke="#404040" stroke-width="2.4" stroke-linecap="round" stroke-linejoin="round" />
<path d="M1801.4 322.2 C1799.6 327.2 1796.0 342.9 1790.7 352.4 C1785.3 361.8 1772.7 374.3 1769.1 378.7" fill="none" stroke="#404040" stroke-width="2.4" stroke-linecap="round" stroke-linejoin="round" />
<path d="M1619.2 246.7 C1619.3 248.8 1619.6 257.5 1619.6 259.6" fill="none" stroke="#9a9a9a" stroke-width="3" stroke-linecap="round" stroke-linejoin="round" />
<path d="M1847.8 251.0 C1847.9 253.3 1848.3 262.7 1848.5 265.0" fill="none" stroke="#9a9a9a" stroke-width="3" stroke-linecap="round" stroke-linejoin="round" />
</g>
<rect x="1575" y="3" width="298" height="397" filter="url(#grain)" style="mix-blend-mode:overlay" opacity="0.45"/>
</g>
<text transform="translate(1587.00 34.00) scale(0.9750 1)" font-size="26" font-weight="bold" text-anchor="start" fill="#f4f4f4" filter="url(#tsh)" opacity="0.95">MSC-TK (+)</text>
<g clip-path="url(#cp2)">
<rect x="1239.00" y="407.00" width="328.60" height="411.00" fill="#262626" stroke="none" stroke-width="0" />
<g filter="url(#b4)">
<ellipse cx="1404.2" cy="415.9" rx="165.2" ry="15.6" fill="#3e3e3e" />
<ellipse cx="1252.4" cy="532.0" rx="26.8" ry="26.8" fill="#3a3a3a" />
<ellipse cx="1556.0" cy="545.4" rx="22.3" ry="29.0" fill="#383838" />
<ellipse cx="1252.4" cy="790.9" rx="26.8" ry="26.8" fill="#343434" />
<ellipse cx="1556.0" cy="790.9" rx="26.8" ry="26.8" fill="#343434" />
</g>
<g filter="url(#b2)">
<path d="M1355.1 496.3 C1343.2 499.3 1334.6 502.2 1323.8 507.4 C1313.0 512.7 1300.4 519.7 1290.3 527.5 C1280.3 535.3 1270.2 544.6 1263.6 554.3 C1256.9 564.0 1253.3 572.9 1250.2 585.6 C1247.0 598.2 1245.7 615.3 1244.6 630.2 C1243.5 645.1 1243.1 660.7 1243.5 674.9 C1243.8 689.0 1245.0 704.6 1246.8 715.0 C1248.7 725.5 1250.3 730.7 1254.6 737.4 C1258.9 744.1 1265.8 749.3 1272.5 755.2 C1279.2 761.2 1286.6 767.1 1294.8 773.1 C1303.0 779.0 1311.5 785.3 1321.6 790.9 C1331.6 796.5 1342.8 802.4 1355.1 806.6 C1367.3 810.7 1381.1 814.4 1395.2 815.9 C1409.4 817.5 1425.8 817.5 1439.9 815.9 C1454.0 814.4 1468.9 810.7 1480.1 806.6 C1491.2 802.4 1498.7 796.5 1506.9 790.9 C1515.0 785.3 1522.1 779.8 1529.2 773.1 C1536.2 766.4 1544.1 758.6 1549.3 750.8 C1554.5 742.9 1558.0 737.0 1560.4 726.2 C1562.9 715.4 1563.6 700.2 1564.0 686.0 C1564.4 671.9 1564.0 655.1 1562.7 641.4 C1561.3 627.6 1559.3 615.7 1556.0 603.4 C1552.6 591.2 1548.2 578.1 1542.6 567.7 C1537.0 557.3 1530.3 549.1 1522.5 540.9 C1514.7 532.7 1505.0 525.3 1495.7 518.6 C1486.4 511.9 1476.0 505.2 1466.7 500.8 C1457.4 496.3 1451.8 493.7 1439.9 491.8 C1428.0 490.0 1409.4 488.8 1395.2 489.6 C1381.1 490.3 1367.0 493.3 1355.1 496.3Z" fill="#080808" stroke="#080808" stroke-width="12"/>
<path d="M1350.6 492.9 C1342.8 488.3 1347.6 477.1 1348.4 469.5 C1349.1 461.9 1351.0 454.2 1355.1 447.2 C1359.2 440.1 1365.5 432.3 1372.9 427.1 C1380.4 421.9 1390.0 417.4 1399.7 415.9 C1409.4 414.4 1422.0 414.8 1431.0 418.2 C1439.9 421.5 1448.1 428.2 1453.3 436.0 C1458.5 443.8 1460.7 455.5 1462.2 465.0 C1463.7 474.5 1465.9 486.8 1462.2 492.9 C1458.5 499.1 1451.1 501.1 1439.9 501.9 C1428.7 502.6 1410.1 498.9 1395.2 497.4 C1380.4 495.9 1358.4 497.6 1350.6 492.9Z" fill="#101010" stroke="#101010" stroke-width="9"/>
</g>
<g filter="url(#b1)">
<path d="M1350.6 492.9 C1342.8 488.3 1347.6 477.1 1348.4 469.5 C1349.1 461.9 1351.0 454.2 1355.1 447.2 C1359.2 440.1 1365.5 432.3 1372.9 427.1 C1380.4 421.9 1390.0 417.4 1399.7 415.9 C1409.4 414.4 1422.0 414.8 1431.0 418.2 C1439.9 421.5 1448.1 428.2 1453.3 436.0 C1458.5 443.8 1460.7 455.5 1462.2 465.0 C1463.7 474.5 1465.9 486.8 1462.2 492.9 C1458.5 499.1 1451.1 501.1 1439.9 501.9 C1428.7 502.6 1410.1 498.9 1395.2 497.4 C1380.4 495.9 1358.4 497.6 1350.6 492.9Z" fill="#595959" />
<path d="M1355.1 496.3 C1343.2 499.3 1334.6 502.2 1323.8 507.4 C1313.0 512.7 1300.4 519.7 1290.3 527.5 C1280.3 535.3 1270.2 544.6 1263.6 554.3 C1256.9 564.0 1253.3 572.9 1250.2 585.6 C1247.0 598.2 1245.7 615.3 1244.6 630.2 C1243.5 645.1 1243.1 660.7 1243.5 674.9 C1243.8 689.0 1245.0 704.6 1246.8 715.0 C1248.7 725.5 1250.3 730.7 1254.6 737.4 C1258.9 744.1 1265.8 749.3 1272.5 755.2 C1279.2 761.2 1286.6 767.1 1294.8 773.1 C1303.0 779.0 1311.5 785.3 1321.6 790.9 C1331.6 796.5 1342.8 802.4 1355.1 806.6 C1367.3 810.7 1381.1 814.4 1395.2 815.9 C1409.4 817.5 1425.8 817.5 1439.9 815.9 C1454.0 814.4 1468.9 810.7 1480.1 806.6 C1491.2 802.4 1498.7 796.5 1506.9 790.9 C1515.0 785.3 1522.1 779.8 1529.2 773.1 C1536.2 766.4 1544.1 758.6 1549.3 750.8 C1554.5 742.9 1558.0 737.0 1560.4 726.2 C1562.9 715.4 1563.6 700.2 1564.0 686.0 C1564.4 671.9 1564.0 655.1 1562.7 641.4 C1561.3 627.6 1559.3 615.7 1556.0 603.4 C1552.6 591.2 1548.2 578.1 1542.6 567.7 C1537.0 557.3 1530.3 549.1 1522.5 540.9 C1514.7 532.7 1505.0 525.3 1495.7 518.6 C1486.4 511.9 1476.0 505.2 1466.7 500.8 C1457.4 496.3 1451.8 493.7 1439.9 491.8 C1428.0 490.0 1409.4 488.8 1395.2 489.6 C1381.1 490.3 1367.0 493.3 1355.1 496.3Z" fill="#5b5b5b" />
</g>
<g filter="url(#b2)">
<ellipse cx="1280.3" cy="459.5" rx="44.6" ry="42.4" fill="#6a6a6a" />
<ellipse cx="1276.9" cy="456.6" rx="30.1" ry="25.7" fill="#171717" />
<path d="M1236.8 471.3 C1240.9 473.7 1252.8 482.4 1261.3 485.6 C1269.9 488.7 1279.9 491.5 1288.1 490.0 C1296.3 488.5 1305.1 482.3 1310.4 476.6 C1315.7 471.0 1319.4 462.9 1319.8 456.1 C1320.2 449.3 1314.2 439.4 1313.1 436.0" fill="none" stroke="#ffffff" stroke-width="11" stroke-linecap="round" stroke-linejoin="round" />
<path d="M1313.1 436.0 C1310.4 434.0 1303.8 426.0 1297.0 423.7 C1290.3 421.5 1276.6 422.8 1272.5 422.6" fill="none" stroke="#9a9a9a" stroke-width="5" stroke-linecap="round" stroke-linejoin="round" />
<ellipse cx="1530.3" cy="471.7" rx="40.2" ry="37.9" fill="#e8e8e8" />
<ellipse cx="1531.9" cy="469.1" rx="21.2" ry="19.6" fill="#4a4a4a" />
<ellipse cx="1532.8" cy="469.1" rx="10.0" ry="9.4" fill="#2a2a2a" />
<path d="M1495.7 474.0 C1497.2 477.7 1499.0 490.9 1504.6 496.3 C1510.2 501.7 1520.6 506.3 1529.2 506.3 C1537.7 506.4 1548.9 500.5 1556.0 496.7 C1563.0 493.0 1569.0 486.1 1571.6 484.0" fill="none" stroke="#ffffff" stroke-width="16" stroke-linecap="round" stroke-linejoin="round" />
</g>
<g filter="url(#b2)">
<path d="M1259.1 563.2 C1263.9 552.8 1272.1 542.0 1283.6 534.2 C1295.2 526.4 1313.4 519.0 1328.3 516.4 C1343.2 513.8 1359.5 514.5 1372.9 518.6 C1386.3 522.7 1398.2 531.6 1408.6 540.9 C1419.1 550.2 1429.1 563.2 1435.4 574.4 C1441.8 585.6 1445.8 596.7 1446.6 607.9 C1447.3 619.1 1444.7 632.1 1439.9 641.4 C1435.1 650.7 1426.9 658.1 1417.6 663.7 C1408.3 669.3 1397.1 673.7 1384.1 674.9 C1371.1 676.0 1352.5 673.0 1339.4 670.4 C1326.4 667.8 1317.1 660.3 1306.0 659.2 C1294.8 658.1 1280.7 668.5 1272.5 663.7 C1264.3 658.9 1259.8 641.4 1256.9 630.2 C1253.9 619.1 1254.3 607.9 1254.6 596.7 C1255.0 585.6 1254.3 573.7 1259.1 563.2Z" fill="#696969" />
<ellipse cx="1372.9" cy="641.4" rx="29.0" ry="24.6" fill="#787878" />
<ellipse cx="1306.0" cy="625.8" rx="24.6" ry="26.8" fill="#5e5e5e" />
<ellipse cx="1355.1" cy="563.2" rx="26.8" ry="17.9" fill="#606060" />
<ellipse cx="1294.8" cy="708.3" rx="53.6" ry="42.4" fill="#848484" />
<ellipse cx="1511.3" cy="719.5" rx="51.3" ry="37.9" fill="#808080" />
<ellipse cx="1399.7" cy="719.5" rx="60.3" ry="35.7" fill="#4c4c4c" />
<ellipse cx="1475.6" cy="663.7" rx="26.8" ry="44.6" fill="#525252" />
</g>
<g filter="url(#b1)">
<path d="M1346.1 684.9 C1351.4 684.0 1367.0 682.5 1377.4 679.3 C1387.8 676.2 1399.7 671.1 1408.6 665.9 C1417.6 660.7 1425.0 654.8 1431.0 648.1 C1436.9 641.4 1441.0 633.2 1444.4 625.8 C1447.7 618.3 1450.3 610.1 1451.1 603.4 C1451.8 596.7 1449.2 588.5 1448.8 585.6" fill="none" stroke="#2a2a2a" stroke-width="3" stroke-linecap="round" stroke-linejoin="round" />
<path d="M1395.2 525.3 C1398.2 529.4 1407.2 543.5 1413.1 549.9 C1419.1 556.3 1425.8 563.3 1431.0 563.7 C1436.2 564.1 1442.1 554.0 1444.4 552.1" fill="none" stroke="#2c2c2c" stroke-width="3" stroke-linecap="round" stroke-linejoin="round" />
<path d="M1456.6 549.9 C1455.1 551.3 1449.4 555.4 1447.7 558.8 C1446.0 562.1 1445.7 566.2 1446.6 569.9 C1447.5 573.7 1452.2 579.2 1453.3 581.1" fill="none" stroke="#cfcfcf" stroke-width="3" stroke-linecap="round" stroke-linejoin="round" />
<path d="M1433.2 451.6 C1434.3 454.6 1439.1 463.9 1439.9 469.5 C1440.6 475.1 1438.0 482.5 1437.7 485.1" fill="none" stroke="#9c9c9c" stroke-width="5" stroke-linecap="round" stroke-linejoin="round" />
<path d="M1460.0 596.7 C1461.8 598.6 1466.3 602.3 1471.1 607.9 C1476.0 613.5 1483.0 622.8 1489.0 630.2 C1495.0 637.7 1502.0 645.1 1506.9 652.5 C1511.7 660.0 1515.4 667.4 1518.0 674.9 C1520.6 682.3 1522.5 689.7 1522.5 697.2 C1522.5 704.6 1521.0 714.2 1518.0 719.5 C1515.0 724.8 1509.1 728.1 1504.6 728.9 C1500.2 729.6 1493.5 724.8 1491.2 724.0" fill="none" stroke="#c8c8c8" stroke-width="8.5" stroke-linecap="round" stroke-linejoin="round" />
<path d="M1462.2 601.2 C1465.9 605.7 1477.5 619.1 1484.5 628.0 C1491.6 636.9 1501.3 650.3 1504.6 654.8" fill="none" stroke="#f0f0f0" stroke-width="3" stroke-linecap="round" stroke-linejoin="round" />
<path d="M1462.2 719.5 C1463.3 722.5 1465.2 732.5 1468.9 737.4 C1472.6 742.2 1478.2 746.2 1484.5 748.5 C1490.9 750.8 1499.4 752.2 1506.9 751.2 C1514.3 750.2 1522.5 745.2 1529.2 742.3 C1535.9 739.3 1544.1 734.8 1547.0 733.3" fill="none" stroke="#f0f0f0" stroke-width="3.2" stroke-linecap="round" stroke-linejoin="round" />
<path d="M1495.7 718.4 C1497.6 718.9 1503.5 721.9 1506.9 721.7 C1510.2 721.5 1514.3 718.0 1515.8 717.3" fill="none" stroke="#f4f4f4" stroke-width="4" stroke-linecap="round" stroke-linejoin="round" />
<ellipse cx="1535.9" cy="741.8" rx="5.4" ry="2.7" fill="#ffffff" />
<ellipse cx="1549.7" cy="748.5" rx="5.8" ry="2.7" fill="#ffffff" />
<path d="M1524.7 746.3 C1526.9 747.0 1532.9 751.5 1538.1 750.8 C1543.3 750.0 1553.0 743.3 1556.0 741.8" fill="none" stroke="#111" stroke-width="3" stroke-linecap="round" stroke-linejoin="round" />
<path d="M1265.8 686.5 C1268.8 685.5 1276.9 681.5 1283.6 680.7 C1290.3 679.8 1298.5 680.7 1306.0 681.6 C1313.4 682.4 1321.6 685.4 1328.3 686.0 C1335.0 686.6 1343.2 685.3 1346.1 685.1" fill="none" stroke="#efefef" stroke-width="5.5" stroke-linecap="round" stroke-linejoin="round" />
<path d="M1258.0 674.9 C1257.4 678.6 1254.1 689.7 1254.6 697.2 C1255.2 704.6 1257.6 713.2 1261.3 719.5 C1265.0 725.8 1274.3 732.5 1276.9 735.1" fill="none" stroke="#e6e6e6" stroke-width="11" stroke-linecap="round" stroke-linejoin="round" />
<path d="M1276.9 735.1 C1281.0 736.8 1292.9 744.8 1301.5 745.2 C1310.1 745.5 1321.6 741.2 1328.3 737.4 C1335.0 733.5 1339.4 724.7 1341.7 722.2" fill="none" stroke="#c2c2c2" stroke-width="6" stroke-linecap="round" stroke-linejoin="round" />
<ellipse cx="1299.3" cy="712.8" rx="33.5" ry="19.0" fill="#6c6c6c" />
<ellipse cx="1340.8" cy="720.6" rx="2.9" ry="2.9" fill="#fff" />
<path d="M1401.9 747.4 C1405.7 747.8 1409.7 753.2 1413.1 755.7 C1416.5 758.2 1424.7 761.9 1422.5 762.4 C1420.2 762.8 1407.6 759.3 1399.7 758.6 C1391.8 757.8 1376.6 758.7 1375.2 757.9 C1373.7 757.0 1386.3 755.2 1390.8 753.4 C1395.2 751.7 1398.2 747.0 1401.9 747.4Z" fill="#ececec" />
<path d="M1332.8 764.1 C1336.5 767.1 1344.7 777.5 1355.1 782.0 C1365.5 786.5 1381.9 791.0 1395.2 791.4 C1408.6 791.7 1425.8 788.4 1435.4 784.2 C1445.1 780.1 1450.3 769.4 1453.3 766.4" fill="none" stroke="#2e2e2e" stroke-width="2.8" stroke-linecap="round" stroke-linejoin="round" />
<path d="M1312.7 755.2 C1314.5 758.6 1318.2 768.6 1323.8 775.3 C1329.4 782.0 1334.2 790.1 1346.1 795.4 C1358.0 800.7 1378.9 806.6 1395.2 807.0 C1411.6 807.4 1431.7 802.5 1444.4 797.6 C1457.0 792.7 1465.2 784.6 1471.1 777.5 C1477.1 770.5 1478.6 758.9 1480.1 755.2" fill="none" stroke="#333" stroke-width="2.6" stroke-linecap="round" stroke-linejoin="round" />
<path d="M1261.3 741.8 C1265.0 745.5 1275.1 756.7 1283.6 764.1 C1292.2 771.6 1307.8 782.7 1312.7 786.5" fill="none" stroke="#303030" stroke-width="2.6" stroke-linecap="round" stroke-linejoin="round" />
<path d="M1540.3 755.2 C1536.6 758.6 1526.2 768.6 1518.0 775.3 C1509.8 782.0 1495.7 792.0 1491.2 795.4" fill="none" stroke="#303030" stroke-width="2.6" stroke-linecap="round" stroke-linejoin="round" />
<path d="M1343.9 768.6 C1347.3 771.6 1355.4 781.6 1364.0 786.5 C1372.6 791.3 1384.5 796.9 1395.2 797.6 C1406.0 798.4 1419.4 795.0 1428.7 790.9 C1438.0 786.8 1447.3 776.0 1451.1 773.1" fill="none" stroke="#747474" stroke-width="2.4" stroke-linecap="round" stroke-linejoin="round" />
<ellipse cx="1324.9" cy="586.7" rx="3.1" ry="2.9" fill="#0c0c0c" />
<ellipse cx="1360.7" cy="546.5" rx="4.9" ry="2.5" fill="#242424" />
<ellipse cx="1419.8" cy="642.5" rx="2.7" ry="2.9" fill="#1c1c1c" />
<ellipse cx="1428.7" cy="563.2" rx="3.6" ry="3.1" fill="#1e1e1e" />
<ellipse cx="1412.0" cy="498.5" rx="2.0" ry="2.0" fill="#1c1c1c" />
<ellipse cx="1243.5" cy="730.7" rx="4.5" ry="4.0" fill="#050505" />
</g>
<rect x="1239" y="407" width="328.6" height="411" filter="url(#grain)" style="mix-blend-mode:overlay" opacity="0.45"/>
</g>
<text transform="translate(1250.00 435.00) scale(0.9750 1)" font-size="26" font-weight="bold" text-anchor="start" fill="#f4f4f4" filter="url(#tsh)" opacity="0.95">MSC-TK (-)</text>
<g clip-path="url(#cp3)">
<rect x="1575.00" y="407.00" width="298.00" height="411.00" fill="#2b2b2b" stroke="none" stroke-width="0" />
<g filter="url(#b4)">
<ellipse cx="1597.8" cy="483.7" rx="40.6" ry="35.9" fill="#464646" />
<ellipse cx="1628.9" cy="428.7" rx="59.8" ry="19.1" fill="#3e3e3e" />
<ellipse cx="1824.9" cy="443.0" rx="28.7" ry="31.1" fill="#3e3e3e" />
<ellipse cx="1860.7" cy="758.5" rx="23.9" ry="52.6" fill="#3c3c3c" />
<ellipse cx="1593.0" cy="782.4" rx="23.9" ry="31.1" fill="#3a3a3a" />
</g>
<g filter="url(#b2)">
<path d="M1674.3 506.4 C1662.3 509.9 1655.2 516.1 1645.6 524.3 C1636.0 532.4 1625.3 544.2 1616.9 555.4 C1608.6 566.5 1601.0 579.3 1595.4 591.2 C1589.8 603.2 1585.9 615.1 1583.5 627.1 C1581.1 639.0 1580.7 651.0 1581.1 662.9 C1581.5 674.9 1582.7 686.8 1585.9 698.8 C1589.0 710.7 1594.2 724.5 1600.2 734.6 C1606.2 744.8 1614.1 751.5 1621.7 759.7 C1629.3 767.9 1636.8 776.2 1645.6 783.6 C1654.4 791.1 1663.1 798.7 1674.3 804.4 C1685.4 810.1 1699.4 815.8 1712.5 817.8 C1725.7 819.8 1740.4 818.6 1753.2 816.3 C1765.9 814.1 1778.3 810.0 1789.0 804.4 C1799.8 798.8 1808.9 791.3 1817.7 782.9 C1826.4 774.5 1834.8 765.0 1841.6 754.2 C1848.4 743.4 1854.3 731.1 1858.3 717.9 C1862.4 704.7 1865.1 690.0 1866.0 674.9 C1866.8 659.7 1865.6 641.8 1863.6 627.1 C1861.6 612.3 1858.4 598.4 1854.0 586.4 C1849.6 574.5 1844.1 564.9 1837.3 555.4 C1830.4 545.8 1821.7 536.6 1812.9 529.1 C1804.1 521.6 1794.2 513.9 1784.2 510.4 C1774.3 506.9 1764.3 509.2 1753.2 508.0 C1742.0 506.8 1730.4 503.5 1717.3 503.3 C1704.2 503.0 1686.2 502.9 1674.3 506.4Z" fill="#0c0c0c" stroke="#0c0c0c" stroke-width="12"/>
<path d="M1683.8 500.4 C1678.7 494.8 1676.3 481.3 1676.7 471.7 C1677.1 462.1 1681.9 451.3 1686.2 443.0 C1690.6 434.7 1697.0 426.4 1703.0 422.0 C1708.9 417.6 1717.6 414.4 1722.1 416.7 C1726.5 419.0 1728.3 421.5 1729.7 435.9 C1731.1 450.2 1734.1 491.2 1730.4 502.8 C1726.8 514.3 1715.5 505.6 1707.7 505.2 C1700.0 504.8 1689.0 506.0 1683.8 500.4Z" fill="#141414" stroke="#141414" stroke-width="8"/>
<path d="M1734.5 502.8 C1729.4 489.0 1732.2 438.6 1734.5 423.9 C1736.8 409.2 1743.3 413.5 1748.4 414.3 C1753.5 415.1 1759.9 422.3 1765.1 428.7 C1770.3 435.1 1775.8 444.2 1779.4 452.6 C1783.1 460.9 1786.2 471.6 1787.1 478.9 C1788.0 486.1 1788.4 491.5 1784.7 496.1 C1781.0 500.7 1773.5 505.2 1765.1 506.4 C1756.7 507.5 1739.6 516.5 1734.5 502.8Z" fill="#141414" stroke="#141414" stroke-width="8"/>
</g>
<g filter="url(#b1)">
<path d="M1683.8 500.4 C1678.7 494.8 1676.3 481.3 1676.7 471.7 C1677.1 462.1 1681.9 451.3 1686.2 443.0 C1690.6 434.7 1697.0 426.4 1703.0 422.0 C1708.9 417.6 1717.6 414.4 1722.1 416.7 C1726.5 419.0 1728.3 421.5 1729.7 435.9 C1731.1 450.2 1734.1 491.2 1730.4 502.8 C1726.8 514.3 1715.5 505.6 1707.7 505.2 C1700.0 504.8 1689.0 506.0 1683.8 500.4Z" fill="#717171" />
<path d="M1734.5 502.8 C1729.4 489.0 1732.2 438.6 1734.5 423.9 C1736.8 409.2 1743.3 413.5 1748.4 414.3 C1753.5 415.1 1759.9 422.3 1765.1 428.7 C1770.3 435.1 1775.8 444.2 1779.4 452.6 C1783.1 460.9 1786.2 471.6 1787.1 478.9 C1788.0 486.1 1788.4 491.5 1784.7 496.1 C1781.0 500.7 1773.5 505.2 1765.1 506.4 C1756.7 507.5 1739.6 516.5 1734.5 502.8Z" fill="#6c6c6c" />
<path d="M1674.3 506.4 C1662.3 509.9 1655.2 516.1 1645.6 524.3 C1636.0 532.4 1625.3 544.2 1616.9 555.4 C1608.6 566.5 1601.0 579.3 1595.4 591.2 C1589.8 603.2 1585.9 615.1 1583.5 627.1 C1581.1 639.0 1580.7 651.0 1581.1 662.9 C1581.5 674.9 1582.7 686.8 1585.9 698.8 C1589.0 710.7 1594.2 724.5 1600.2 734.6 C1606.2 744.8 1614.1 751.5 1621.7 759.7 C1629.3 767.9 1636.8 776.2 1645.6 783.6 C1654.4 791.1 1663.1 798.7 1674.3 804.4 C1685.4 810.1 1699.4 815.8 1712.5 817.8 C1725.7 819.8 1740.4 818.6 1753.2 816.3 C1765.9 814.1 1778.3 810.0 1789.0 804.4 C1799.8 798.8 1808.9 791.3 1817.7 782.9 C1826.4 774.5 1834.8 765.0 1841.6 754.2 C1848.4 743.4 1854.3 731.1 1858.3 717.9 C1862.4 704.7 1865.1 690.0 1866.0 674.9 C1866.8 659.7 1865.6 641.8 1863.6 627.1 C1861.6 612.3 1858.4 598.4 1854.0 586.4 C1849.6 574.5 1844.1 564.9 1837.3 555.4 C1830.4 545.8 1821.7 536.6 1812.9 529.1 C1804.1 521.6 1794.2 513.9 1784.2 510.4 C1774.3 506.9 1764.3 509.2 1753.2 508.0 C1742.0 506.8 1730.4 503.5 1717.3 503.3 C1704.2 503.0 1686.2 502.9 1674.3 506.4Z" fill="#6a6a6a" />
</g>
<g filter="url(#b2)">
<path d="M1655.2 512.8 C1669.1 506.1 1691.0 507.6 1705.4 508.0 C1719.7 508.4 1733.6 509.3 1741.2 515.2 C1748.9 521.1 1750.0 530.7 1751.2 543.4 C1752.5 556.1 1750.4 575.3 1748.9 591.2 C1747.3 607.1 1745.3 626.3 1741.7 639.0 C1738.1 651.8 1733.8 660.4 1727.3 667.7 C1720.9 674.9 1711.8 680.8 1703.0 682.5 C1694.1 684.2 1683.0 681.0 1674.3 677.7 C1665.5 674.5 1658.0 669.4 1650.4 662.9 C1642.8 656.5 1635.6 648.6 1628.9 639.0 C1622.1 629.4 1614.1 616.7 1609.8 605.5 C1605.4 594.4 1601.1 581.6 1603.1 572.1 C1605.1 562.5 1613.0 558.1 1621.7 548.2 C1630.4 538.3 1641.2 519.5 1655.2 512.8Z" fill="#8b8b8b" />
<ellipse cx="1655.2" cy="588.8" rx="28.7" ry="10.8" fill="#666" transform="rotate(12 1655.2 588.8)" />
<ellipse cx="1717.3" cy="734.6" rx="83.7" ry="47.8" fill="#666" />
</g>
<g filter="url(#b1)">
<path d="M1642.0 595.6 C1644.2 596.5 1650.9 599.8 1655.4 601.2 C1659.8 602.6 1664.3 604.4 1668.8 603.9 C1673.2 603.3 1677.7 599.6 1682.1 597.8 C1686.6 596.1 1693.3 594.1 1695.5 593.4" fill="none" stroke="#141414" stroke-width="4.6" stroke-linecap="round" stroke-linejoin="round" />
<path d="M1630.8 576.6 C1632.7 578.9 1637.9 586.3 1642.0 590.0 C1646.1 593.8 1653.1 597.5 1655.4 599.0" fill="none" stroke="#4a4a4a" stroke-width="3.5" stroke-linecap="round" stroke-linejoin="round" />
<path d="M1612.9 564.4 C1615.7 561.5 1625.9 548.0 1629.7 547.2 C1633.5 546.3 1634.7 557.2 1635.7 559.2" fill="none" stroke="#dcdcdc" stroke-width="2.6" stroke-linecap="round" stroke-linejoin="round" />
<path d="M1741.2 515.2 C1742.5 523.9 1748.4 550.7 1748.9 567.3 C1749.3 584.0 1745.3 603.2 1744.1 615.1 C1742.8 627.1 1739.7 631.0 1741.2 639.0 C1742.7 647.1 1749.2 655.4 1753.2 663.4 C1757.1 671.4 1760.7 678.9 1765.1 686.8 C1769.5 694.7 1773.1 703.9 1779.4 710.7 C1785.8 717.5 1795.4 723.5 1803.3 727.4 C1811.3 731.4 1823.3 733.4 1827.2 734.6" fill="none" stroke="#4a4a4a" stroke-width="2.4" stroke-linecap="round" stroke-linejoin="round" />
<path d="M1727.3 667.7 C1725.7 670.1 1721.4 679.2 1717.3 682.0 C1713.2 684.8 1705.4 684.0 1703.0 684.4" fill="none" stroke="#555" stroke-width="2" stroke-linecap="round" stroke-linejoin="round" />
<path d="M1693.4 756.6 C1697.4 757.0 1709.3 759.4 1717.3 759.0 C1725.3 758.6 1737.2 755.0 1741.2 754.2" fill="none" stroke="#f0f0f0" stroke-width="3.4" stroke-linecap="round" stroke-linejoin="round" />
<path d="M1679.1 780.0 C1684.6 782.0 1701.0 791.6 1712.5 792.0 C1724.1 792.4 1742.4 784.0 1748.4 782.4" fill="none" stroke="#4c4c4c" stroke-width="2.4" stroke-linecap="round" stroke-linejoin="round" />
<ellipse cx="1626.5" cy="657.2" rx="2.4" ry="2.2" fill="#222" />
<ellipse cx="1722.6" cy="705.0" rx="2.6" ry="3.1" fill="#222" />
<path d="M1726.9 703.5 C1728.5 701.9 1734.8 695.6 1736.4 694.0" fill="none" stroke="#a0a0a0" stroke-width="2.4" stroke-linecap="round" stroke-linejoin="round" />
<ellipse cx="1787.1" cy="751.3" rx="2.4" ry="2.2" fill="#222" />
<ellipse cx="1641.3" cy="749.4" rx="2.4" ry="2.2" fill="#222" />
<path d="M1820.1 731.0 C1822.5 731.4 1832.0 733.0 1834.4 733.4" fill="none" stroke="#aaa" stroke-width="3" stroke-linecap="round" stroke-linejoin="round" />
<path d="M1619.3 756.1 C1621.7 755.7 1631.3 754.1 1633.7 753.7" fill="none" stroke="#999" stroke-width="3" stroke-linecap="round" stroke-linejoin="round" />
<path d="M1815.3 512.3 C1818.9 514.7 1829.2 523.3 1836.8 526.7 C1844.4 530.1 1854.3 531.9 1860.7 532.6 C1867.1 533.4 1872.7 531.7 1875.0 531.5" fill="none" stroke="#d8d8d8" stroke-width="2.6" stroke-linecap="round" stroke-linejoin="round" />
<path d="M1810.5 502.8 C1814.1 505.2 1824.1 513.5 1832.0 517.1 C1840.0 520.7 1851.1 523.3 1858.3 524.3 C1865.5 525.3 1872.3 523.3 1875.0 523.1" fill="none" stroke="#111" stroke-width="3" stroke-linecap="round" stroke-linejoin="round" />
<path d="M1803.3 447.8 C1804.5 453.0 1808.1 469.3 1810.5 478.9 C1812.9 488.4 1816.5 500.8 1817.7 505.2" fill="none" stroke="#151515" stroke-width="4" stroke-linecap="round" stroke-linejoin="round" />
</g>
<g filter="url(#b4)">
<ellipse cx="1874.1" cy="480.7" rx="12.3" ry="26.8" fill="#f0f0f0" />
<ellipse cx="1854.0" cy="474.0" rx="15.6" ry="35.7" fill="#6a6a6a" opacity="0.5"/>
</g>
<rect x="1575" y="407" width="298" height="411" filter="url(#grain)" style="mix-blend-mode:overlay" opacity="0.45"/>
</g>
<text transform="translate(1584.50 436.00) scale(1.0300 1)" font-size="26" font-weight="bold" text-anchor="start" fill="#f4f4f4" filter="url(#tsh)" opacity="0.95">Control</text>
<rect x="1240" y="4" width="325.3" height="395" fill="none" stroke="#0a0a0a" stroke-width="2.2" opacity="0.8" filter="url(#soft)"/>
<rect x="1576" y="4" width="296" height="395" fill="none" stroke="#0a0a0a" stroke-width="2.2" opacity="0.8" filter="url(#soft)"/>
<rect x="1240" y="408" width="326.6" height="409" fill="none" stroke="#0a0a0a" stroke-width="2.2" opacity="0.8" filter="url(#soft)"/>
<rect x="1576" y="408" width="296" height="409" fill="none" stroke="#0a0a0a" stroke-width="2.2" opacity="0.8" filter="url(#soft)"/>
</g>
<g id="panelC" filter="url(#soft)">
<line x1="429.00" y1="878.50" x2="429.00" y2="1706.40" stroke="#dcdcdc" stroke-width="2.5" />
<line x1="703.70" y1="878.50" x2="703.70" y2="1706.40" stroke="#dcdcdc" stroke-width="2.5" />
<line x1="207.00" y1="1009.40" x2="207.00" y2="1171.55" stroke="#6a6a6a" stroke-width="2.4" />
<line x1="207.00" y1="1292.30" x2="207.00" y2="1299.20" stroke="#6a6a6a" stroke-width="2.4" />
<line x1="198.00" y1="1009.40" x2="216.00" y2="1009.40" stroke="#6a6a6a" stroke-width="2.4" />
<line x1="198.00" y1="1299.20" x2="216.00" y2="1299.20" stroke="#6a6a6a" stroke-width="2.4" />
<rect x="170.50" y="1171.55" width="71.80" height="120.75" fill="#888888" stroke="#5a5a5a" stroke-width="2.8" />
<line x1="170.50" y1="1257.80" x2="242.30" y2="1257.80" stroke="#4a4a4a" stroke-width="3.6" />
<line x1="291.00" y1="1278.50" x2="291.00" y2="1292.30" stroke="#6a6a6a" stroke-width="2.4" />
<line x1="291.00" y1="1344.05" x2="291.00" y2="1368.20" stroke="#6a6a6a" stroke-width="2.4" />
<line x1="282.00" y1="1278.50" x2="300.00" y2="1278.50" stroke="#6a6a6a" stroke-width="2.4" />
<line x1="282.00" y1="1368.20" x2="300.00" y2="1368.20" stroke="#6a6a6a" stroke-width="2.4" />
<rect x="255.30" y="1292.30" width="72.00" height="51.75" fill="#bbbbbb" stroke="#5a5a5a" stroke-width="2.8" />
<line x1="255.30" y1="1292.30" x2="327.30" y2="1292.30" stroke="#4a4a4a" stroke-width="3.6" />
<line x1="376.00" y1="1216.40" x2="376.00" y2="1257.80" stroke="#6a6a6a" stroke-width="2.4" />
<line x1="376.00" y1="1430.30" x2="376.00" y2="1437.20" stroke="#6a6a6a" stroke-width="2.4" />
<line x1="367.00" y1="1216.40" x2="385.00" y2="1216.40" stroke="#6a6a6a" stroke-width="2.4" />
<line x1="367.00" y1="1437.20" x2="385.00" y2="1437.20" stroke="#6a6a6a" stroke-width="2.4" />
<rect x="338.00" y="1257.80" width="74.30" height="172.50" fill="#e0e0e0" stroke="#8a8a8a" stroke-width="2.8" />
<line x1="338.00" y1="1361.30" x2="412.30" y2="1361.30" stroke="#666" stroke-width="3.6" />
<line x1="483.00" y1="933.50" x2="483.00" y2="1085.30" stroke="#6a6a6a" stroke-width="2.4" />
<line x1="483.00" y1="1292.30" x2="483.00" y2="1361.30" stroke="#6a6a6a" stroke-width="2.4" />
<line x1="474.00" y1="933.50" x2="492.00" y2="933.50" stroke="#6a6a6a" stroke-width="2.4" />
<line x1="474.00" y1="1361.30" x2="492.00" y2="1361.30" stroke="#6a6a6a" stroke-width="2.4" />
<rect x="446.80" y="1085.30" width="70.90" height="207.00" fill="#888888" stroke="#5a5a5a" stroke-width="2.8" />
<line x1="446.80" y1="1223.30" x2="517.70" y2="1223.30" stroke="#4a4a4a" stroke-width="3.6" />
<line x1="567.00" y1="1216.40" x2="567.00" y2="1292.30" stroke="#6a6a6a" stroke-width="2.4" />
<line x1="567.00" y1="1413.05" x2="567.00" y2="1499.30" stroke="#6a6a6a" stroke-width="2.4" />
<line x1="558.00" y1="1216.40" x2="576.00" y2="1216.40" stroke="#6a6a6a" stroke-width="2.4" />
<line x1="558.00" y1="1499.30" x2="576.00" y2="1499.30" stroke="#6a6a6a" stroke-width="2.4" />
<rect x="531.20" y="1292.30" width="71.50" height="120.75" fill="#bbbbbb" stroke="#5a5a5a" stroke-width="2.8" />
<line x1="531.20" y1="1292.30" x2="602.70" y2="1292.30" stroke="#4a4a4a" stroke-width="3.6" />
<line x1="651.30" y1="1216.40" x2="651.30" y2="1292.30" stroke="#6a6a6a" stroke-width="2.4" />
<line x1="651.30" y1="1413.05" x2="651.30" y2="1437.20" stroke="#6a6a6a" stroke-width="2.4" />
<line x1="642.30" y1="1216.40" x2="660.30" y2="1216.40" stroke="#6a6a6a" stroke-width="2.4" />
<line x1="642.30" y1="1437.20" x2="660.30" y2="1437.20" stroke="#6a6a6a" stroke-width="2.4" />
<rect x="614.00" y="1292.30" width="73.40" height="120.75" fill="#e0e0e0" stroke="#8a8a8a" stroke-width="2.8" />
<line x1="614.00" y1="1326.80" x2="687.40" y2="1326.80" stroke="#666" stroke-width="3.6" />
<line x1="758.50" y1="974.90" x2="758.50" y2="1016.30" stroke="#6a6a6a" stroke-width="2.4" />
<line x1="758.50" y1="1223.30" x2="758.50" y2="1237.10" stroke="#6a6a6a" stroke-width="2.4" />
<line x1="749.50" y1="974.90" x2="767.50" y2="974.90" stroke="#6a6a6a" stroke-width="2.4" />
<line x1="749.50" y1="1237.10" x2="767.50" y2="1237.10" stroke="#6a6a6a" stroke-width="2.4" />
<rect x="722.70" y="1016.30" width="72.00" height="207.00" fill="#888888" stroke="#5a5a5a" stroke-width="2.8" />
<line x1="722.70" y1="1154.30" x2="794.70" y2="1154.30" stroke="#4a4a4a" stroke-width="3.6" />
<line x1="843.00" y1="1154.30" x2="843.00" y2="1223.30" stroke="#6a6a6a" stroke-width="2.4" />
<line x1="843.00" y1="1430.30" x2="843.00" y2="1651.10" stroke="#6a6a6a" stroke-width="2.4" />
<line x1="834.00" y1="1154.30" x2="852.00" y2="1154.30" stroke="#6a6a6a" stroke-width="2.4" />
<line x1="834.00" y1="1651.10" x2="852.00" y2="1651.10" stroke="#6a6a6a" stroke-width="2.4" />
<rect x="806.90" y="1223.30" width="72.00" height="207.00" fill="#bbbbbb" stroke="#5a5a5a" stroke-width="2.8" />
<line x1="806.90" y1="1292.30" x2="878.90" y2="1292.30" stroke="#4a4a4a" stroke-width="3.6" />
<line x1="927.20" y1="1154.30" x2="927.20" y2="1223.30" stroke="#6a6a6a" stroke-width="2.4" />
<line x1="927.20" y1="1413.05" x2="927.20" y2="1437.20" stroke="#6a6a6a" stroke-width="2.4" />
<line x1="918.20" y1="1154.30" x2="936.20" y2="1154.30" stroke="#6a6a6a" stroke-width="2.4" />
<line x1="918.20" y1="1437.20" x2="936.20" y2="1437.20" stroke="#6a6a6a" stroke-width="2.4" />
<rect x="890.30" y="1223.30" width="72.70" height="189.75" fill="#e0e0e0" stroke="#8a8a8a" stroke-width="2.8" />
<line x1="890.30" y1="1257.80" x2="963.00" y2="1257.80" stroke="#666" stroke-width="3.6" />
<rect x="153.30" y="878.50" width="827.70" height="827.90" fill="none" stroke="#0c0c0c" stroke-width="4.4" />
<line x1="141.00" y1="1706.30" x2="153.00" y2="1706.30" stroke="#0c0c0c" stroke-width="3.2" />
<text transform="translate(132.20 1713.90) scale(0.9700 1)" font-size="28" font-weight="bold" text-anchor="end" fill="#111"  stroke="#111" stroke-width="0.4" stroke-linejoin="round">18.0</text>
<line x1="141.00" y1="1568.30" x2="153.00" y2="1568.30" stroke="#0c0c0c" stroke-width="3.2" />
<text transform="translate(132.20 1575.90) scale(0.9700 1)" font-size="28" font-weight="bold" text-anchor="end" fill="#111"  stroke="#111" stroke-width="0.4" stroke-linejoin="round">20.0</text>
<line x1="141.00" y1="1430.30" x2="153.00" y2="1430.30" stroke="#0c0c0c" stroke-width="3.2" />
<text transform="translate(132.20 1437.90) scale(0.9700 1)" font-size="28" font-weight="bold" text-anchor="end" fill="#111"  stroke="#111" stroke-width="0.4" stroke-linejoin="round">22.0</text>
<line x1="141.00" y1="1292.30" x2="153.00" y2="1292.30" stroke="#0c0c0c" stroke-width="3.2" />
<text transform="translate(132.20 1299.90) scale(0.9700 1)" font-size="28" font-weight="bold" text-anchor="end" fill="#111"  stroke="#111" stroke-width="0.4" stroke-linejoin="round">24.0</text>
<line x1="141.00" y1="1154.30" x2="153.00" y2="1154.30" stroke="#0c0c0c" stroke-width="3.2" />
<text transform="translate(132.20 1161.90) scale(0.9700 1)" font-size="28" font-weight="bold" text-anchor="end" fill="#111"  stroke="#111" stroke-width="0.4" stroke-linejoin="round">26.0</text>
<line x1="141.00" y1="1016.30" x2="153.00" y2="1016.30" stroke="#0c0c0c" stroke-width="3.2" />
<text transform="translate(132.20 1023.90) scale(0.9700 1)" font-size="28" font-weight="bold" text-anchor="end" fill="#111"  stroke="#111" stroke-width="0.4" stroke-linejoin="round">28.0</text>
<line x1="141.00" y1="878.30" x2="153.00" y2="878.30" stroke="#0c0c0c" stroke-width="3.2" />
<text transform="translate(132.20 885.90) scale(0.9700 1)" font-size="28" font-weight="bold" text-anchor="end" fill="#111"  stroke="#111" stroke-width="0.4" stroke-linejoin="round">30.0</text>
<line x1="291.00" y1="1706.00" x2="291.00" y2="1720.50" stroke="#2a2a2a" stroke-width="3" />
<text transform="translate(288.50 1766.30)" font-size="36" font-weight="bold" text-anchor="middle" fill="#111"  stroke="#111" stroke-width="0.5" stroke-linejoin="round">week 1</text>
<line x1="567.00" y1="1706.00" x2="567.00" y2="1720.50" stroke="#2a2a2a" stroke-width="3" />
<text transform="translate(564.50 1766.30)" font-size="36" font-weight="bold" text-anchor="middle" fill="#111"  stroke="#111" stroke-width="0.5" stroke-linejoin="round">week 2</text>
<line x1="843.00" y1="1706.00" x2="843.00" y2="1720.50" stroke="#2a2a2a" stroke-width="3" />
<text transform="translate(840.50 1766.30)" font-size="36" font-weight="bold" text-anchor="middle" fill="#111"  stroke="#111" stroke-width="0.5" stroke-linejoin="round">week 3</text>
<rect x="178.00" y="1586.80" width="24.30" height="21.70" fill="#888" stroke="none" stroke-width="0" />
<rect x="178.00" y="1615.30" width="24.30" height="21.20" fill="#b5b5b5" stroke="none" stroke-width="0" />
<rect x="178.00" y="1642.50" width="24.30" height="21.70" fill="#dedede" stroke="none" stroke-width="0" />
<text transform="translate(213.20 1605.80) scale(1.0900 1)" font-size="25" font-weight="normal" text-anchor="start" fill="#1e1e1e"  stroke="#1e1e1e" stroke-width="0.35" stroke-linejoin="round">MSV-TK (+GCV)</text>
<text transform="translate(213.20 1633.80) scale(1.0900 1)" font-size="25" font-weight="normal" text-anchor="start" fill="#1e1e1e"  stroke="#1e1e1e" stroke-width="0.35" stroke-linejoin="round">MSV-TK (-GCV)</text>
<text transform="translate(213.20 1661.50) scale(1.0900 1)" font-size="25" font-weight="normal" text-anchor="start" fill="#1e1e1e"  stroke="#1e1e1e" stroke-width="0.35" stroke-linejoin="round">Controls</text>
<text transform="translate(46.70 1293.00) rotate(-90) scale(1.0200 1)" font-size="35" font-weight="bold" text-anchor="middle" fill="#111"  stroke="#111" stroke-width="0.5" stroke-linejoin="round">Bodyweight (g)</text>
</g>
<g id="panelD" filter="url(#soft)">
<path d="M1151.0 884.8 L1328.9 884.8 L1328.9 1048.9 L1346.6 1048.9 L1346.6 1213.0 L1355.5 1213.0 L1355.5 1459.1 L1382.2 1459.1 L1382.2 1541.2 L1426.7 1541.2 L1426.7 1623.2 L1444.5 1623.2 L1444.5 1705.3" fill="none" stroke="#707070" stroke-width="4" stroke-dasharray="4.2 8.65" stroke-dashoffset="10"/>
<path d="M1151.0 884.8 L1382.2 884.8 L1382.2 1048.9 L1391.1 1048.9 L1391.1 1131.0 L1400.0 1131.0 L1400.0 1295.0 L1417.8 1295.0 L1417.8 1377.1 L1444.5 1377.1 L1444.5 1459.1 L1462.3 1459.1 L1462.3 1541.2 L1933.6 1541.2 L1933.6 1623.2 L1960.3 1623.2 L1960.3 1705.3" fill="none" stroke="#262626" stroke-width="3.5" stroke-dasharray="20.5 11.3" stroke-dashoffset="7"/>
<path d="M1151.0 884.8 L1328.9 884.8 L1328.9 966.8 L1355.5 966.8 L1355.5 1131.0 L1364.4 1131.0 L1364.4 1213.0 L1373.3 1213.0 L1373.3 1459.1 L1382.2 1459.1 L1382.2 1623.2 L1400.0 1623.2 L1400.0 1705.3" fill="none" stroke="#3a3a3a" stroke-width="3.7"/>
<path d="M1382.2 1459.1 L1382.2 1623.2 L1400.0 1623.2 L1400.0 1705.3" fill="none" stroke="#151515" stroke-width="4"/>
<line x1="1328.86" y1="884.80" x2="1328.86" y2="968.35" stroke="#141414" stroke-width="4.4" />
<rect x="1151.00" y="884.70" width="845.50" height="821.30" fill="none" stroke="#101010" stroke-width="5" />
<line x1="1139.00" y1="1705.30" x2="1151.00" y2="1705.30" stroke="#101010" stroke-width="3.2" />
<text transform="translate(1130.30 1715.30) scale(0.8300 1)" font-size="30" font-weight="bold" text-anchor="end" fill="#111"  stroke="#111" stroke-width="0.4" stroke-linejoin="round">0.0</text>
<line x1="1139.00" y1="1541.20" x2="1151.00" y2="1541.20" stroke="#101010" stroke-width="3.2" />
<text transform="translate(1130.30 1551.20) scale(0.8300 1)" font-size="30" font-weight="bold" text-anchor="end" fill="#111"  stroke="#111" stroke-width="0.4" stroke-linejoin="round">0.2</text>
<line x1="1139.00" y1="1377.10" x2="1151.00" y2="1377.10" stroke="#101010" stroke-width="3.2" />
<text transform="translate(1130.30 1387.10) scale(0.8300 1)" font-size="30" font-weight="bold" text-anchor="end" fill="#111"  stroke="#111" stroke-width="0.4" stroke-linejoin="round">0.4</text>
<line x1="1139.00" y1="1213.00" x2="1151.00" y2="1213.00" stroke="#101010" stroke-width="3.2" />
<text transform="translate(1130.30 1223.00) scale(0.8300 1)" font-size="30" font-weight="bold" text-anchor="end" fill="#111"  stroke="#111" stroke-width="0.4" stroke-linejoin="round">0.6</text>
<line x1="1139.00" y1="1048.90" x2="1151.00" y2="1048.90" stroke="#101010" stroke-width="3.2" />
<text transform="translate(1130.30 1058.90) scale(0.8300 1)" font-size="30" font-weight="bold" text-anchor="end" fill="#111"  stroke="#111" stroke-width="0.4" stroke-linejoin="round">0.8</text>
<line x1="1139.00" y1="884.80" x2="1151.00" y2="884.80" stroke="#101010" stroke-width="3.2" />
<text transform="translate(1130.30 894.80) scale(0.8300 1)" font-size="30" font-weight="bold" text-anchor="end" fill="#111"  stroke="#111" stroke-width="0.4" stroke-linejoin="round">1.0</text>
<line x1="1151.00" y1="1706.00" x2="1151.00" y2="1719.60" stroke="#1a1a1a" stroke-width="3.2" />
<text transform="translate(1162.20 1748.30) rotate(-45) scale(0.9200 1)" font-size="29" font-weight="bold" text-anchor="end" fill="#0a0a0a"  stroke="#0a0a0a" stroke-width="0.6" stroke-linejoin="round">0</text>
<line x1="1239.93" y1="1706.00" x2="1239.93" y2="1719.60" stroke="#1a1a1a" stroke-width="3.2" />
<text transform="translate(1251.13 1748.30) rotate(-45) scale(0.9200 1)" font-size="29" font-weight="bold" text-anchor="end" fill="#0a0a0a"  stroke="#0a0a0a" stroke-width="0.6" stroke-linejoin="round">10</text>
<line x1="1328.86" y1="1706.00" x2="1328.86" y2="1719.60" stroke="#1a1a1a" stroke-width="3.2" />
<text transform="translate(1340.06 1748.30) rotate(-45) scale(0.9200 1)" font-size="29" font-weight="bold" text-anchor="end" fill="#0a0a0a"  stroke="#0a0a0a" stroke-width="0.6" stroke-linejoin="round">20</text>
<line x1="1417.79" y1="1706.00" x2="1417.79" y2="1719.60" stroke="#1a1a1a" stroke-width="3.2" />
<text transform="translate(1428.99 1748.30) rotate(-45) scale(0.9200 1)" font-size="29" font-weight="bold" text-anchor="end" fill="#0a0a0a"  stroke="#0a0a0a" stroke-width="0.6" stroke-linejoin="round">30</text>
<line x1="1506.72" y1="1706.00" x2="1506.72" y2="1719.60" stroke="#1a1a1a" stroke-width="3.2" />
<text transform="translate(1517.92 1748.30) rotate(-45) scale(0.9200 1)" font-size="29" font-weight="bold" text-anchor="end" fill="#0a0a0a"  stroke="#0a0a0a" stroke-width="0.6" stroke-linejoin="round">40</text>
<line x1="1595.65" y1="1706.00" x2="1595.65" y2="1719.60" stroke="#1a1a1a" stroke-width="3.2" />
<text transform="translate(1606.85 1748.30) rotate(-45) scale(0.9200 1)" font-size="29" font-weight="bold" text-anchor="end" fill="#0a0a0a"  stroke="#0a0a0a" stroke-width="0.6" stroke-linejoin="round">50</text>
<line x1="1684.58" y1="1706.00" x2="1684.58" y2="1719.60" stroke="#1a1a1a" stroke-width="3.2" />
<text transform="translate(1695.78 1748.30) rotate(-45) scale(0.9200 1)" font-size="29" font-weight="bold" text-anchor="end" fill="#0a0a0a"  stroke="#0a0a0a" stroke-width="0.6" stroke-linejoin="round">60</text>
<line x1="1773.51" y1="1706.00" x2="1773.51" y2="1719.60" stroke="#1a1a1a" stroke-width="3.2" />
<text transform="translate(1784.71 1748.30) rotate(-45) scale(0.9200 1)" font-size="29" font-weight="bold" text-anchor="end" fill="#0a0a0a"  stroke="#0a0a0a" stroke-width="0.6" stroke-linejoin="round">70</text>
<line x1="1862.44" y1="1706.00" x2="1862.44" y2="1719.60" stroke="#1a1a1a" stroke-width="3.2" />
<text transform="translate(1873.64 1748.30) rotate(-45) scale(0.9200 1)" font-size="29" font-weight="bold" text-anchor="end" fill="#0a0a0a"  stroke="#0a0a0a" stroke-width="0.6" stroke-linejoin="round">80</text>
<line x1="1951.37" y1="1706.00" x2="1951.37" y2="1719.60" stroke="#1a1a1a" stroke-width="3.2" />
<text transform="translate(1962.57 1748.30) rotate(-45) scale(0.9200 1)" font-size="29" font-weight="bold" text-anchor="end" fill="#0a0a0a"  stroke="#0a0a0a" stroke-width="0.6" stroke-linejoin="round">90</text>
<text transform="translate(1573.00 1826.00)" font-size="36" font-weight="bold" text-anchor="middle" fill="#111"  stroke="#111" stroke-width="0.5" stroke-linejoin="round">Days</text>
<text transform="translate(1063.80 1295.00) rotate(-90)" font-size="35" font-weight="bold" text-anchor="middle" fill="#111"  stroke="#111" stroke-width="0.5" stroke-linejoin="round">Survival</text>
<line x1="1650.7" y1="947.2" x2="1760.7" y2="947.2" stroke="#3a3a3a" stroke-width="4.6" stroke-dasharray="17.6 13.6"/>
<line x1="1650.7" y1="981.2" x2="1760.7" y2="981.2" stroke="#8a8a8a" stroke-width="4.6" stroke-dasharray="5 7.2"/>
<line x1="1650.7" y1="1013.8" x2="1760.7" y2="1013.8" stroke="#2a2a2a" stroke-width="4"/>
<text transform="translate(1777.00 957.30)" font-size="27.5" font-weight="normal" text-anchor="start" fill="#1c1c1c"  stroke="#1c1c1c" stroke-width="0.4" stroke-linejoin="round">MSC-TK (+GCV)</text>
<text transform="translate(1777.00 989.90)" font-size="27.5" font-weight="normal" text-anchor="start" fill="#1c1c1c"  stroke="#1c1c1c" stroke-width="0.4" stroke-linejoin="round">MSC-TK (-GCV)</text>
<text transform="translate(1777.00 1021.10)" font-size="27.5" font-weight="normal" text-anchor="start" fill="#1c1c1c"  stroke="#1c1c1c" stroke-width="0.4" stroke-linejoin="round">Controls</text>
</g>
<g id="letters" filter="url(#soft)">
<text transform="translate(5.00 51.80) scale(0.8900 1)" font-size="74" font-weight="normal" text-anchor="start" fill="#000" >A</text>
<text transform="translate(1167.60 51.30) scale(0.8350 1)" font-size="74" font-weight="normal" text-anchor="start" fill="#000" >B</text>
<text transform="translate(4.20 931.20) scale(0.8700 1)" font-size="73" font-weight="normal" text-anchor="start" fill="#000" >C</text>
<text transform="translate(1037.50 932.00) scale(0.9700 1)" font-size="74" font-weight="normal" text-anchor="start" fill="#000" >D</text>
</g>
</svg></body></html>
